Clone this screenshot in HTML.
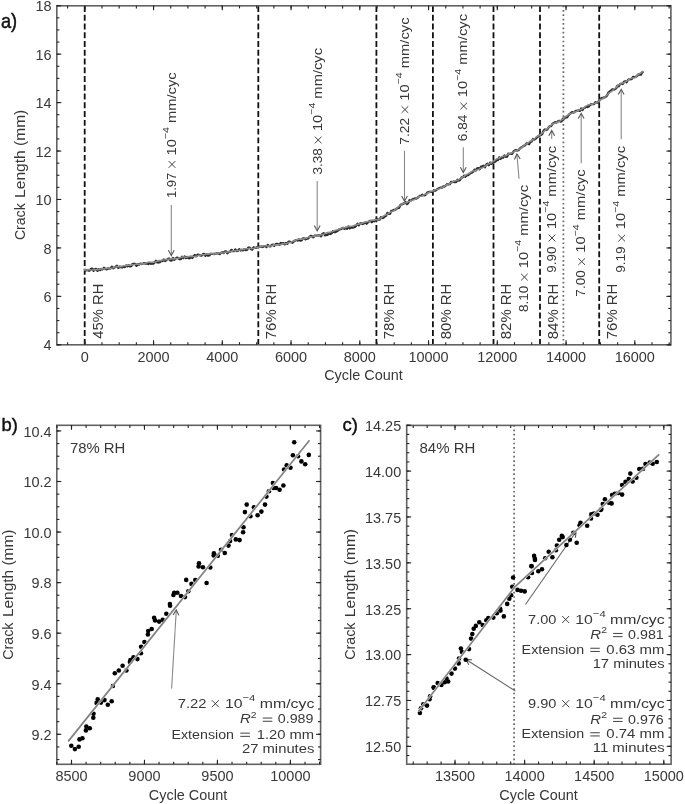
<!DOCTYPE html>
<html><head><meta charset="utf-8"><style>html,body{margin:0;padding:0;background:#fff;}svg{display:block;will-change:transform;}</style></head>
<body>
<svg width="685" height="804" viewBox="0 0 685 804" font-family="Liberation Sans, sans-serif">
<rect width="685" height="804" fill="#fff"/>
<line x1="84.70" y1="6.00" x2="84.70" y2="344.80" stroke="#111" stroke-width="1.8" stroke-dasharray="5.9 2.86"/>
<line x1="258.30" y1="6.00" x2="258.30" y2="344.80" stroke="#111" stroke-width="1.8" stroke-dasharray="5.9 2.86"/>
<line x1="376.40" y1="6.00" x2="376.40" y2="344.80" stroke="#111" stroke-width="1.8" stroke-dasharray="5.9 2.86"/>
<line x1="432.90" y1="6.00" x2="432.90" y2="344.80" stroke="#111" stroke-width="1.8" stroke-dasharray="5.9 2.86"/>
<line x1="493.50" y1="6.00" x2="493.50" y2="344.80" stroke="#111" stroke-width="1.8" stroke-dasharray="5.9 2.86"/>
<line x1="540.00" y1="6.00" x2="540.00" y2="344.80" stroke="#111" stroke-width="1.8" stroke-dasharray="5.9 2.86"/>
<line x1="599.20" y1="6.00" x2="599.20" y2="344.80" stroke="#111" stroke-width="1.8" stroke-dasharray="5.9 2.86"/>
<line x1="563.40" y1="5.55" x2="563.40" y2="344.80" stroke="#666" stroke-width="1.7" stroke-dasharray="1.7 2.686"/>
<polyline fill="none" stroke="#2a2a2a" stroke-width="2.3" stroke-linejoin="round" points="84.5,269.8 85.8,270.5 87.1,270.0 88.4,270.5 89.7,270.5 91.0,268.9 92.3,268.6 93.6,270.8 94.9,269.1 96.2,269.0 97.5,270.9 98.8,269.3 100.1,270.1 101.4,269.0 102.7,269.3 104.0,267.8 105.3,268.9 106.6,269.4 107.9,268.3 109.2,268.7 110.5,268.4 111.8,266.6 113.1,268.3 114.4,267.6 115.7,266.7 117.0,265.8 118.3,267.9 119.6,266.6 120.9,267.1 122.2,267.4 123.5,266.7 124.8,267.1 126.1,265.5 127.4,266.4 128.7,265.2 130.0,266.4 131.3,266.1 132.6,263.8 133.9,263.8 135.2,263.9 136.5,265.8 137.8,264.2 139.1,264.6 140.4,263.6 141.7,264.0 143.0,263.5 144.3,263.2 145.6,263.6 146.9,263.4 148.2,264.1 149.5,263.3 150.8,263.8 152.1,263.4 153.4,263.5 154.7,262.4 156.0,260.8 157.3,262.4 158.6,262.5 159.9,262.1 161.2,260.9 162.5,261.1 163.8,259.5 165.1,261.0 166.4,260.1 167.7,259.2 169.0,258.4 170.3,260.4 171.6,260.6 172.9,258.0 174.2,259.8 175.5,258.6 176.8,257.7 178.1,257.9 179.4,259.1 180.7,259.2 182.0,256.8 183.3,258.1 184.6,256.4 185.9,258.1 187.2,256.9 188.5,258.2 189.8,258.3 191.1,256.8 192.4,258.0 193.7,255.9 195.0,255.1 196.3,256.3 197.6,254.6 198.9,254.9 200.2,255.3 201.5,255.7 202.8,254.3 204.1,253.8 205.4,255.8 206.7,254.1 208.0,255.7 209.3,255.4 210.6,253.8 211.9,253.8 213.2,253.8 214.5,254.0 215.8,253.7 217.1,253.4 218.4,253.4 219.7,254.1 221.0,252.8 222.3,252.4 223.6,253.0 224.9,251.5 226.2,251.5 227.5,253.2 228.8,251.8 230.1,251.7 231.4,250.0 232.7,251.0 234.0,251.2 235.3,249.5 236.6,251.0 237.9,250.8 239.2,249.1 240.5,250.5 241.8,249.9 243.1,250.3 244.4,249.2 245.7,250.0 247.0,249.8 248.3,247.7 249.6,247.6 250.9,249.0 252.2,249.6 253.5,247.4 254.8,247.8 256.1,247.9 257.4,247.0 258.7,246.9 260.0,246.6 261.3,246.6 262.6,247.0 263.9,246.1 265.2,246.1 266.5,247.0 267.8,244.9 269.1,246.1 270.4,246.4 271.7,245.0 273.0,244.6 274.3,245.9 275.6,244.2 276.9,243.9 278.2,244.3 279.5,244.9 280.8,243.0 282.1,243.4 283.4,243.2 284.7,244.4 286.0,243.0 287.3,243.8 288.6,241.6 289.9,241.7 291.2,242.3 292.5,242.8 293.8,241.4 295.1,240.6 296.4,239.9 297.7,240.6 299.0,239.3 300.3,240.6 301.6,240.4 302.9,238.3 304.2,238.3 305.5,239.4 306.8,238.5 308.1,238.5 309.4,236.9 310.7,236.0 312.0,236.2 313.3,237.3 314.6,235.7 315.9,235.6 317.2,235.6 318.5,235.4 319.8,235.2 321.1,236.3 322.4,233.9 323.7,233.2 325.0,235.4 326.3,234.9 327.6,234.8 328.9,232.9 330.2,234.0 331.5,233.5 332.8,231.2 334.1,232.2 335.4,232.1 336.7,231.2 338.0,230.5 339.3,229.4 340.6,229.2 341.9,228.6 343.2,227.8 344.5,228.9 345.8,227.7 347.1,228.8 348.4,226.4 349.7,228.4 351.0,227.5 352.3,227.7 353.6,227.3 354.9,227.0 356.2,225.7 357.5,223.8 358.8,225.3 360.1,223.4 361.4,223.4 362.7,224.0 364.0,223.2 365.3,222.6 366.6,223.7 367.9,222.4 369.2,221.4 370.5,220.8 371.8,222.2 373.1,220.8 374.4,221.3 375.7,219.9 377.0,219.0 378.3,219.5 379.6,219.7 380.9,217.2 382.2,218.1 383.5,217.6 384.8,216.5 386.1,215.8 387.4,212.9 388.7,213.9 390.0,213.9 391.3,210.9 392.6,210.7 393.9,209.9 395.2,209.8 396.5,208.7 397.8,208.0 399.1,207.9 400.4,205.0 401.7,204.4 403.0,203.9 404.3,203.1 405.6,202.2 406.9,204.0 408.2,203.0 409.5,200.2 410.8,200.7 412.1,199.6 413.4,199.0 414.7,198.5 416.0,198.7 417.3,198.0 418.6,196.9 419.9,195.9 421.2,195.7 422.5,194.7 423.8,195.3 425.1,195.2 426.4,193.8 427.7,192.4 429.0,192.0 430.3,191.9 431.6,191.9 432.9,191.7 434.2,190.1 435.5,190.7 436.8,189.7 438.1,188.7 439.4,188.0 440.7,187.7 442.0,187.7 443.3,186.4 444.6,186.5 445.9,185.3 447.2,184.2 448.5,184.4 449.8,184.2 451.1,181.9 452.4,182.2 453.7,181.6 455.0,182.2 456.3,181.8 457.6,179.7 458.9,180.6 460.2,179.7 461.5,177.5 462.8,177.3 464.1,175.7 465.4,176.8 466.7,175.5 468.0,175.2 469.3,174.1 470.6,173.0 471.9,172.6 473.2,171.6 474.5,169.7 475.8,170.5 477.1,168.3 478.4,168.1 479.7,169.3 481.0,166.7 482.3,166.3 483.6,165.7 484.9,167.3 486.2,164.7 487.5,163.7 488.8,165.2 490.1,162.6 491.4,163.9 492.7,162.7 494.0,162.3 495.3,161.6 496.6,160.0 497.9,160.0 499.2,157.4 500.5,158.9 501.8,157.7 503.1,157.7 504.4,155.5 505.7,156.8 507.0,156.7 508.3,153.7 509.6,153.8 510.9,153.7 512.2,153.8 513.5,151.5 514.8,150.6 516.1,150.1 517.4,150.5 518.7,150.1 520.0,148.4 521.3,147.5 522.6,146.7 523.9,145.7 525.2,145.1 526.5,143.3 527.8,143.6 529.1,144.1 530.4,141.7 531.7,141.6 533.0,139.0 534.3,139.5 535.6,138.7 536.9,137.5 538.2,136.3 539.5,135.6 540.8,135.0 542.1,134.3 543.4,130.9 544.7,129.4 546.0,130.1 547.3,129.5 548.6,127.4 549.9,126.1 551.2,126.0 552.5,123.7 553.8,123.1 555.1,122.1 556.4,122.7 557.7,121.5 559.0,120.8 560.3,121.5 561.6,121.3 562.9,118.6 564.2,118.7 565.5,117.0 566.8,117.4 568.1,115.8 569.4,114.1 570.7,113.2 572.0,112.1 573.3,112.7 574.6,111.9 575.9,110.8 577.2,110.8 578.5,110.2 579.8,110.9 581.1,108.5 582.4,110.1 583.7,108.0 585.0,107.7 586.3,106.6 587.6,107.0 588.9,106.2 590.2,104.9 591.5,104.1 592.8,104.2 594.1,104.0 595.4,102.2 596.7,102.5 598.0,102.5 599.3,100.5 600.6,98.9 601.9,97.9 603.2,98.2 604.5,97.1 605.8,96.8 607.1,95.4 608.4,92.7 609.7,91.5 611.0,90.6 612.3,89.4 613.6,89.7 614.9,89.1 616.2,88.2 617.5,85.6 618.8,86.3 620.1,84.0 621.4,83.7 622.7,84.0 624.0,81.8 625.3,81.2 626.6,82.3 627.9,80.0 629.2,79.3 630.5,79.2 631.8,79.0 633.1,76.8 634.4,77.2 635.7,76.8 637.0,76.0 638.3,74.4 639.6,74.5 640.9,74.6 642.2,72.2 643.5,71.8"/>
<polyline fill="none" stroke="#8c8c8c" stroke-width="1.6" stroke-linejoin="round" stroke-linecap="round" points="84.5,269.9 86.0,269.7 87.5,270.0 89.0,269.5 90.5,270.0 92.0,270.3 93.5,269.6 95.0,269.9 96.5,269.5 98.0,269.6 99.5,269.5 101.0,269.0 102.5,268.9 104.0,268.8 105.5,268.8 107.0,268.2 108.5,268.2 110.0,268.4 111.5,268.1 113.0,267.7 114.5,267.0 116.0,266.9 117.5,266.6 119.0,266.7 120.5,266.6 122.0,266.4 123.5,265.8 125.0,265.8 126.5,265.7 128.0,265.1 129.5,265.3 131.0,265.2 132.5,264.5 134.0,264.9 135.5,264.2 137.0,264.0 138.5,264.2 140.0,264.1 141.5,263.9 143.0,263.8 144.5,263.5 146.0,263.0 147.5,262.5 149.0,262.0 150.5,262.3 152.0,262.4 153.5,262.1 155.0,262.0 156.5,261.5 158.0,260.9 159.5,260.6 161.0,260.8 162.5,260.0 164.0,259.8 165.5,259.5 167.0,259.7 168.5,259.3 170.0,259.0 171.5,258.9 173.0,258.8 174.5,259.0 176.0,258.5 177.5,258.7 179.0,258.0 180.5,257.6 182.0,257.2 183.5,256.8 185.0,257.2 186.5,257.3 188.0,256.8 189.5,256.4 191.0,256.2 192.5,256.4 194.0,256.5 195.5,256.4 197.0,256.1 198.5,255.4 200.0,255.2 201.5,254.7 203.0,254.7 204.5,254.7 206.0,254.2 207.5,253.9 209.0,254.1 210.5,253.5 212.0,253.8 213.5,253.9 215.0,254.0 216.5,253.5 218.0,253.2 219.5,253.0 221.0,252.8 222.5,253.0 224.0,252.7 225.5,252.1 227.0,252.2 228.5,251.8 230.0,251.6 231.5,251.5 233.0,250.7 234.5,250.8 236.0,250.8 237.5,250.5 239.0,250.3 240.5,250.0 242.0,249.5 243.5,249.4 245.0,248.8 246.5,248.8 248.0,248.8 249.5,248.5 251.0,248.3 252.5,248.5 254.0,248.5 255.5,247.6 257.0,247.6 258.5,247.4 260.0,246.6 261.5,246.4 263.0,246.1 264.5,245.7 266.0,245.8 267.5,246.2 269.0,245.7 270.5,245.9 272.0,245.7 273.5,244.9 275.0,245.1 276.5,244.9 278.0,244.9 279.5,244.7 281.0,244.4 282.5,243.8 284.0,243.8 285.5,243.8 287.0,243.5 288.5,242.7 290.0,242.4 291.5,242.0 293.0,241.3 294.5,240.7 296.0,240.1 297.5,239.6 299.0,239.1 300.5,239.0 302.0,239.1 303.5,238.8 305.0,238.4 306.5,238.1 308.0,237.4 309.5,236.9 311.0,236.9 312.5,236.5 314.0,235.9 315.5,236.1 317.0,236.0 318.5,235.5 320.0,235.1 321.5,234.8 323.0,234.6 324.5,233.9 326.0,233.1 327.5,232.6 329.0,232.8 330.5,232.0 332.0,231.7 333.5,231.1 335.0,230.5 336.5,230.0 338.0,229.7 339.5,229.1 341.0,228.5 342.5,228.0 344.0,227.7 345.5,227.6 347.0,227.0 348.5,226.5 350.0,226.4 351.5,226.2 353.0,226.1 354.5,225.3 356.0,225.0 357.5,224.6 359.0,223.7 360.5,224.0 362.0,223.3 363.5,222.6 365.0,222.3 366.5,221.8 368.0,221.7 369.5,221.3 371.0,220.6 372.5,220.0 374.0,220.2 375.5,219.7 377.0,219.7 378.5,219.1 380.0,218.9 381.5,217.6 383.0,216.4 384.5,215.3 386.0,214.9 387.5,214.2 389.0,213.2 390.5,212.0 392.0,211.4 393.5,211.0 395.0,210.0 396.5,208.4 398.0,207.1 399.5,205.9 401.0,205.0 402.5,204.0 404.0,203.1 405.5,202.8 407.0,202.6 408.5,201.5 410.0,201.2 411.5,200.4 413.0,199.9 414.5,199.4 416.0,198.9 417.5,197.5 419.0,196.7 420.5,196.3 422.0,196.1 423.5,194.9 425.0,194.2 426.5,194.0 428.0,192.9 429.5,192.2 431.0,191.4 432.5,190.9 434.0,190.7 435.5,189.6 437.0,189.3 438.5,188.9 440.0,188.4 441.5,187.6 443.0,187.2 444.5,186.1 446.0,185.2 447.5,184.3 449.0,184.0 450.5,183.2 452.0,182.2 453.5,181.3 455.0,181.0 456.5,180.4 458.0,179.9 459.5,179.1 461.0,178.3 462.5,177.1 464.0,176.6 465.5,175.2 467.0,174.3 468.5,173.7 470.0,172.8 471.5,171.7 473.0,170.9 474.5,170.7 476.0,170.2 477.5,169.8 479.0,169.3 480.5,168.3 482.0,167.9 483.5,167.3 485.0,166.2 486.5,165.2 488.0,164.1 489.5,163.4 491.0,163.2 492.5,161.9 494.0,161.1 495.5,159.6 497.0,158.7 498.5,158.5 500.0,157.8 501.5,156.9 503.0,156.2 504.5,156.0 506.0,155.7 507.5,154.6 509.0,153.8 510.5,153.7 512.0,152.6 513.5,151.9 515.0,151.1 516.5,150.6 518.0,149.9 519.5,149.2 521.0,148.1 522.5,146.7 524.0,145.5 525.5,144.2 527.0,143.9 528.5,142.5 530.0,141.3 531.5,140.9 533.0,139.5 534.5,138.8 536.0,137.2 537.5,136.2 539.0,135.3 540.5,134.8 542.0,133.3 543.5,131.8 545.0,130.4 546.5,129.4 548.0,127.8 549.5,126.6 551.0,125.4 552.5,124.0 554.0,123.5 555.5,122.7 557.0,122.4 558.5,121.5 560.0,121.0 561.5,119.9 563.0,119.1 564.5,117.5 566.0,116.4 567.5,115.5 569.0,114.2 570.5,113.6 572.0,113.2 573.5,112.5 575.0,111.9 576.5,111.4 578.0,110.5 579.5,109.8 581.0,109.7 582.5,108.6 584.0,107.7 585.5,106.5 587.0,105.6 588.5,104.7 590.0,104.6 591.5,104.2 593.0,103.9 594.5,103.5 596.0,102.6 597.5,102.1 599.0,101.1 600.5,99.7 602.0,98.9 603.5,97.9 605.0,96.9 606.5,95.3 608.0,94.1 609.5,92.6 611.0,91.8 612.5,90.7 614.0,88.9 615.5,88.1 617.0,86.4 618.5,85.0 620.0,84.3 621.5,83.5 623.0,83.0 624.5,82.6 626.0,81.2 627.5,80.6 629.0,79.4 630.5,78.6 632.0,78.0 633.5,77.8 635.0,77.5 636.5,76.1 638.0,74.7 639.5,73.7 641.0,72.8 642.5,71.5"/>
<rect x="56.8" y="5.8" width="614.1" height="339.0" fill="none" stroke="#626262" stroke-width="1.6"/>
<line x1="67.61" y1="344.80" x2="67.61" y2="342.20" stroke="#222" stroke-width="1.1" />
<line x1="67.61" y1="5.80" x2="67.61" y2="8.40" stroke="#222" stroke-width="1.1" />
<line x1="84.80" y1="344.80" x2="84.80" y2="342.20" stroke="#222" stroke-width="1.1" />
<line x1="84.80" y1="5.80" x2="84.80" y2="8.40" stroke="#222" stroke-width="1.1" />
<line x1="101.99" y1="344.80" x2="101.99" y2="342.20" stroke="#222" stroke-width="1.1" />
<line x1="101.99" y1="5.80" x2="101.99" y2="8.40" stroke="#222" stroke-width="1.1" />
<line x1="119.17" y1="344.80" x2="119.17" y2="342.20" stroke="#222" stroke-width="1.1" />
<line x1="119.17" y1="5.80" x2="119.17" y2="8.40" stroke="#222" stroke-width="1.1" />
<line x1="136.36" y1="344.80" x2="136.36" y2="342.20" stroke="#222" stroke-width="1.1" />
<line x1="136.36" y1="5.80" x2="136.36" y2="8.40" stroke="#222" stroke-width="1.1" />
<line x1="153.55" y1="344.80" x2="153.55" y2="342.20" stroke="#222" stroke-width="1.1" />
<line x1="153.55" y1="5.80" x2="153.55" y2="8.40" stroke="#222" stroke-width="1.1" />
<line x1="170.74" y1="344.80" x2="170.74" y2="342.20" stroke="#222" stroke-width="1.1" />
<line x1="170.74" y1="5.80" x2="170.74" y2="8.40" stroke="#222" stroke-width="1.1" />
<line x1="187.93" y1="344.80" x2="187.93" y2="342.20" stroke="#222" stroke-width="1.1" />
<line x1="187.93" y1="5.80" x2="187.93" y2="8.40" stroke="#222" stroke-width="1.1" />
<line x1="205.11" y1="344.80" x2="205.11" y2="342.20" stroke="#222" stroke-width="1.1" />
<line x1="205.11" y1="5.80" x2="205.11" y2="8.40" stroke="#222" stroke-width="1.1" />
<line x1="222.30" y1="344.80" x2="222.30" y2="342.20" stroke="#222" stroke-width="1.1" />
<line x1="222.30" y1="5.80" x2="222.30" y2="8.40" stroke="#222" stroke-width="1.1" />
<line x1="239.49" y1="344.80" x2="239.49" y2="342.20" stroke="#222" stroke-width="1.1" />
<line x1="239.49" y1="5.80" x2="239.49" y2="8.40" stroke="#222" stroke-width="1.1" />
<line x1="256.68" y1="344.80" x2="256.68" y2="342.20" stroke="#222" stroke-width="1.1" />
<line x1="256.68" y1="5.80" x2="256.68" y2="8.40" stroke="#222" stroke-width="1.1" />
<line x1="273.86" y1="344.80" x2="273.86" y2="342.20" stroke="#222" stroke-width="1.1" />
<line x1="273.86" y1="5.80" x2="273.86" y2="8.40" stroke="#222" stroke-width="1.1" />
<line x1="291.05" y1="344.80" x2="291.05" y2="342.20" stroke="#222" stroke-width="1.1" />
<line x1="291.05" y1="5.80" x2="291.05" y2="8.40" stroke="#222" stroke-width="1.1" />
<line x1="308.24" y1="344.80" x2="308.24" y2="342.20" stroke="#222" stroke-width="1.1" />
<line x1="308.24" y1="5.80" x2="308.24" y2="8.40" stroke="#222" stroke-width="1.1" />
<line x1="325.43" y1="344.80" x2="325.43" y2="342.20" stroke="#222" stroke-width="1.1" />
<line x1="325.43" y1="5.80" x2="325.43" y2="8.40" stroke="#222" stroke-width="1.1" />
<line x1="342.61" y1="344.80" x2="342.61" y2="342.20" stroke="#222" stroke-width="1.1" />
<line x1="342.61" y1="5.80" x2="342.61" y2="8.40" stroke="#222" stroke-width="1.1" />
<line x1="359.80" y1="344.80" x2="359.80" y2="342.20" stroke="#222" stroke-width="1.1" />
<line x1="359.80" y1="5.80" x2="359.80" y2="8.40" stroke="#222" stroke-width="1.1" />
<line x1="376.99" y1="344.80" x2="376.99" y2="342.20" stroke="#222" stroke-width="1.1" />
<line x1="376.99" y1="5.80" x2="376.99" y2="8.40" stroke="#222" stroke-width="1.1" />
<line x1="394.18" y1="344.80" x2="394.18" y2="342.20" stroke="#222" stroke-width="1.1" />
<line x1="394.18" y1="5.80" x2="394.18" y2="8.40" stroke="#222" stroke-width="1.1" />
<line x1="411.36" y1="344.80" x2="411.36" y2="342.20" stroke="#222" stroke-width="1.1" />
<line x1="411.36" y1="5.80" x2="411.36" y2="8.40" stroke="#222" stroke-width="1.1" />
<line x1="428.55" y1="344.80" x2="428.55" y2="342.20" stroke="#222" stroke-width="1.1" />
<line x1="428.55" y1="5.80" x2="428.55" y2="8.40" stroke="#222" stroke-width="1.1" />
<line x1="445.74" y1="344.80" x2="445.74" y2="342.20" stroke="#222" stroke-width="1.1" />
<line x1="445.74" y1="5.80" x2="445.74" y2="8.40" stroke="#222" stroke-width="1.1" />
<line x1="462.93" y1="344.80" x2="462.93" y2="342.20" stroke="#222" stroke-width="1.1" />
<line x1="462.93" y1="5.80" x2="462.93" y2="8.40" stroke="#222" stroke-width="1.1" />
<line x1="480.11" y1="344.80" x2="480.11" y2="342.20" stroke="#222" stroke-width="1.1" />
<line x1="480.11" y1="5.80" x2="480.11" y2="8.40" stroke="#222" stroke-width="1.1" />
<line x1="497.30" y1="344.80" x2="497.30" y2="342.20" stroke="#222" stroke-width="1.1" />
<line x1="497.30" y1="5.80" x2="497.30" y2="8.40" stroke="#222" stroke-width="1.1" />
<line x1="514.49" y1="344.80" x2="514.49" y2="342.20" stroke="#222" stroke-width="1.1" />
<line x1="514.49" y1="5.80" x2="514.49" y2="8.40" stroke="#222" stroke-width="1.1" />
<line x1="531.68" y1="344.80" x2="531.68" y2="342.20" stroke="#222" stroke-width="1.1" />
<line x1="531.68" y1="5.80" x2="531.68" y2="8.40" stroke="#222" stroke-width="1.1" />
<line x1="548.86" y1="344.80" x2="548.86" y2="342.20" stroke="#222" stroke-width="1.1" />
<line x1="548.86" y1="5.80" x2="548.86" y2="8.40" stroke="#222" stroke-width="1.1" />
<line x1="566.05" y1="344.80" x2="566.05" y2="342.20" stroke="#222" stroke-width="1.1" />
<line x1="566.05" y1="5.80" x2="566.05" y2="8.40" stroke="#222" stroke-width="1.1" />
<line x1="583.24" y1="344.80" x2="583.24" y2="342.20" stroke="#222" stroke-width="1.1" />
<line x1="583.24" y1="5.80" x2="583.24" y2="8.40" stroke="#222" stroke-width="1.1" />
<line x1="600.42" y1="344.80" x2="600.42" y2="342.20" stroke="#222" stroke-width="1.1" />
<line x1="600.42" y1="5.80" x2="600.42" y2="8.40" stroke="#222" stroke-width="1.1" />
<line x1="617.61" y1="344.80" x2="617.61" y2="342.20" stroke="#222" stroke-width="1.1" />
<line x1="617.61" y1="5.80" x2="617.61" y2="8.40" stroke="#222" stroke-width="1.1" />
<line x1="634.80" y1="344.80" x2="634.80" y2="342.20" stroke="#222" stroke-width="1.1" />
<line x1="634.80" y1="5.80" x2="634.80" y2="8.40" stroke="#222" stroke-width="1.1" />
<line x1="651.99" y1="344.80" x2="651.99" y2="342.20" stroke="#222" stroke-width="1.1" />
<line x1="651.99" y1="5.80" x2="651.99" y2="8.40" stroke="#222" stroke-width="1.1" />
<line x1="669.17" y1="344.80" x2="669.17" y2="342.20" stroke="#222" stroke-width="1.1" />
<line x1="669.17" y1="5.80" x2="669.17" y2="8.40" stroke="#222" stroke-width="1.1" />
<line x1="84.80" y1="344.80" x2="84.80" y2="340.30" stroke="#222" stroke-width="1.1" />
<line x1="84.80" y1="5.80" x2="84.80" y2="10.30" stroke="#222" stroke-width="1.1" />
<line x1="153.55" y1="344.80" x2="153.55" y2="340.30" stroke="#222" stroke-width="1.1" />
<line x1="153.55" y1="5.80" x2="153.55" y2="10.30" stroke="#222" stroke-width="1.1" />
<line x1="222.30" y1="344.80" x2="222.30" y2="340.30" stroke="#222" stroke-width="1.1" />
<line x1="222.30" y1="5.80" x2="222.30" y2="10.30" stroke="#222" stroke-width="1.1" />
<line x1="291.05" y1="344.80" x2="291.05" y2="340.30" stroke="#222" stroke-width="1.1" />
<line x1="291.05" y1="5.80" x2="291.05" y2="10.30" stroke="#222" stroke-width="1.1" />
<line x1="359.80" y1="344.80" x2="359.80" y2="340.30" stroke="#222" stroke-width="1.1" />
<line x1="359.80" y1="5.80" x2="359.80" y2="10.30" stroke="#222" stroke-width="1.1" />
<line x1="428.55" y1="344.80" x2="428.55" y2="340.30" stroke="#222" stroke-width="1.1" />
<line x1="428.55" y1="5.80" x2="428.55" y2="10.30" stroke="#222" stroke-width="1.1" />
<line x1="497.30" y1="344.80" x2="497.30" y2="340.30" stroke="#222" stroke-width="1.1" />
<line x1="497.30" y1="5.80" x2="497.30" y2="10.30" stroke="#222" stroke-width="1.1" />
<line x1="566.05" y1="344.80" x2="566.05" y2="340.30" stroke="#222" stroke-width="1.1" />
<line x1="566.05" y1="5.80" x2="566.05" y2="10.30" stroke="#222" stroke-width="1.1" />
<line x1="634.80" y1="344.80" x2="634.80" y2="340.30" stroke="#222" stroke-width="1.1" />
<line x1="634.80" y1="5.80" x2="634.80" y2="10.30" stroke="#222" stroke-width="1.1" />
<line x1="56.80" y1="344.80" x2="59.40" y2="344.80" stroke="#222" stroke-width="1.1" />
<line x1="670.90" y1="344.80" x2="668.30" y2="344.80" stroke="#222" stroke-width="1.1" />
<line x1="56.80" y1="332.69" x2="59.40" y2="332.69" stroke="#222" stroke-width="1.1" />
<line x1="670.90" y1="332.69" x2="668.30" y2="332.69" stroke="#222" stroke-width="1.1" />
<line x1="56.80" y1="320.58" x2="59.40" y2="320.58" stroke="#222" stroke-width="1.1" />
<line x1="670.90" y1="320.58" x2="668.30" y2="320.58" stroke="#222" stroke-width="1.1" />
<line x1="56.80" y1="308.47" x2="59.40" y2="308.47" stroke="#222" stroke-width="1.1" />
<line x1="670.90" y1="308.47" x2="668.30" y2="308.47" stroke="#222" stroke-width="1.1" />
<line x1="56.80" y1="296.36" x2="59.40" y2="296.36" stroke="#222" stroke-width="1.1" />
<line x1="670.90" y1="296.36" x2="668.30" y2="296.36" stroke="#222" stroke-width="1.1" />
<line x1="56.80" y1="284.25" x2="59.40" y2="284.25" stroke="#222" stroke-width="1.1" />
<line x1="670.90" y1="284.25" x2="668.30" y2="284.25" stroke="#222" stroke-width="1.1" />
<line x1="56.80" y1="272.14" x2="59.40" y2="272.14" stroke="#222" stroke-width="1.1" />
<line x1="670.90" y1="272.14" x2="668.30" y2="272.14" stroke="#222" stroke-width="1.1" />
<line x1="56.80" y1="260.03" x2="59.40" y2="260.03" stroke="#222" stroke-width="1.1" />
<line x1="670.90" y1="260.03" x2="668.30" y2="260.03" stroke="#222" stroke-width="1.1" />
<line x1="56.80" y1="247.92" x2="59.40" y2="247.92" stroke="#222" stroke-width="1.1" />
<line x1="670.90" y1="247.92" x2="668.30" y2="247.92" stroke="#222" stroke-width="1.1" />
<line x1="56.80" y1="235.81" x2="59.40" y2="235.81" stroke="#222" stroke-width="1.1" />
<line x1="670.90" y1="235.81" x2="668.30" y2="235.81" stroke="#222" stroke-width="1.1" />
<line x1="56.80" y1="223.70" x2="59.40" y2="223.70" stroke="#222" stroke-width="1.1" />
<line x1="670.90" y1="223.70" x2="668.30" y2="223.70" stroke="#222" stroke-width="1.1" />
<line x1="56.80" y1="211.59" x2="59.40" y2="211.59" stroke="#222" stroke-width="1.1" />
<line x1="670.90" y1="211.59" x2="668.30" y2="211.59" stroke="#222" stroke-width="1.1" />
<line x1="56.80" y1="199.48" x2="59.40" y2="199.48" stroke="#222" stroke-width="1.1" />
<line x1="670.90" y1="199.48" x2="668.30" y2="199.48" stroke="#222" stroke-width="1.1" />
<line x1="56.80" y1="187.37" x2="59.40" y2="187.37" stroke="#222" stroke-width="1.1" />
<line x1="670.90" y1="187.37" x2="668.30" y2="187.37" stroke="#222" stroke-width="1.1" />
<line x1="56.80" y1="175.26" x2="59.40" y2="175.26" stroke="#222" stroke-width="1.1" />
<line x1="670.90" y1="175.26" x2="668.30" y2="175.26" stroke="#222" stroke-width="1.1" />
<line x1="56.80" y1="163.15" x2="59.40" y2="163.15" stroke="#222" stroke-width="1.1" />
<line x1="670.90" y1="163.15" x2="668.30" y2="163.15" stroke="#222" stroke-width="1.1" />
<line x1="56.80" y1="151.04" x2="59.40" y2="151.04" stroke="#222" stroke-width="1.1" />
<line x1="670.90" y1="151.04" x2="668.30" y2="151.04" stroke="#222" stroke-width="1.1" />
<line x1="56.80" y1="138.93" x2="59.40" y2="138.93" stroke="#222" stroke-width="1.1" />
<line x1="670.90" y1="138.93" x2="668.30" y2="138.93" stroke="#222" stroke-width="1.1" />
<line x1="56.80" y1="126.82" x2="59.40" y2="126.82" stroke="#222" stroke-width="1.1" />
<line x1="670.90" y1="126.82" x2="668.30" y2="126.82" stroke="#222" stroke-width="1.1" />
<line x1="56.80" y1="114.71" x2="59.40" y2="114.71" stroke="#222" stroke-width="1.1" />
<line x1="670.90" y1="114.71" x2="668.30" y2="114.71" stroke="#222" stroke-width="1.1" />
<line x1="56.80" y1="102.60" x2="59.40" y2="102.60" stroke="#222" stroke-width="1.1" />
<line x1="670.90" y1="102.60" x2="668.30" y2="102.60" stroke="#222" stroke-width="1.1" />
<line x1="56.80" y1="90.49" x2="59.40" y2="90.49" stroke="#222" stroke-width="1.1" />
<line x1="670.90" y1="90.49" x2="668.30" y2="90.49" stroke="#222" stroke-width="1.1" />
<line x1="56.80" y1="78.38" x2="59.40" y2="78.38" stroke="#222" stroke-width="1.1" />
<line x1="670.90" y1="78.38" x2="668.30" y2="78.38" stroke="#222" stroke-width="1.1" />
<line x1="56.80" y1="66.27" x2="59.40" y2="66.27" stroke="#222" stroke-width="1.1" />
<line x1="670.90" y1="66.27" x2="668.30" y2="66.27" stroke="#222" stroke-width="1.1" />
<line x1="56.80" y1="54.16" x2="59.40" y2="54.16" stroke="#222" stroke-width="1.1" />
<line x1="670.90" y1="54.16" x2="668.30" y2="54.16" stroke="#222" stroke-width="1.1" />
<line x1="56.80" y1="42.05" x2="59.40" y2="42.05" stroke="#222" stroke-width="1.1" />
<line x1="670.90" y1="42.05" x2="668.30" y2="42.05" stroke="#222" stroke-width="1.1" />
<line x1="56.80" y1="29.94" x2="59.40" y2="29.94" stroke="#222" stroke-width="1.1" />
<line x1="670.90" y1="29.94" x2="668.30" y2="29.94" stroke="#222" stroke-width="1.1" />
<line x1="56.80" y1="17.83" x2="59.40" y2="17.83" stroke="#222" stroke-width="1.1" />
<line x1="670.90" y1="17.83" x2="668.30" y2="17.83" stroke="#222" stroke-width="1.1" />
<line x1="56.80" y1="5.72" x2="59.40" y2="5.72" stroke="#222" stroke-width="1.1" />
<line x1="670.90" y1="5.72" x2="668.30" y2="5.72" stroke="#222" stroke-width="1.1" />
<line x1="56.80" y1="344.80" x2="61.30" y2="344.80" stroke="#222" stroke-width="1.1" />
<line x1="670.90" y1="344.80" x2="666.40" y2="344.80" stroke="#222" stroke-width="1.1" />
<line x1="56.80" y1="296.36" x2="61.30" y2="296.36" stroke="#222" stroke-width="1.1" />
<line x1="670.90" y1="296.36" x2="666.40" y2="296.36" stroke="#222" stroke-width="1.1" />
<line x1="56.80" y1="247.92" x2="61.30" y2="247.92" stroke="#222" stroke-width="1.1" />
<line x1="670.90" y1="247.92" x2="666.40" y2="247.92" stroke="#222" stroke-width="1.1" />
<line x1="56.80" y1="199.48" x2="61.30" y2="199.48" stroke="#222" stroke-width="1.1" />
<line x1="670.90" y1="199.48" x2="666.40" y2="199.48" stroke="#222" stroke-width="1.1" />
<line x1="56.80" y1="151.04" x2="61.30" y2="151.04" stroke="#222" stroke-width="1.1" />
<line x1="670.90" y1="151.04" x2="666.40" y2="151.04" stroke="#222" stroke-width="1.1" />
<line x1="56.80" y1="102.60" x2="61.30" y2="102.60" stroke="#222" stroke-width="1.1" />
<line x1="670.90" y1="102.60" x2="666.40" y2="102.60" stroke="#222" stroke-width="1.1" />
<line x1="56.80" y1="54.16" x2="61.30" y2="54.16" stroke="#222" stroke-width="1.1" />
<line x1="670.90" y1="54.16" x2="666.40" y2="54.16" stroke="#222" stroke-width="1.1" />
<line x1="56.80" y1="5.72" x2="61.30" y2="5.72" stroke="#222" stroke-width="1.1" />
<line x1="670.90" y1="5.72" x2="666.40" y2="5.72" stroke="#222" stroke-width="1.1" />
<text transform="translate(84.80,362.00) scale(1.05,1)" font-size="13.8" text-anchor="middle" fill="#383838">0</text>
<text transform="translate(153.55,362.00) scale(1.05,1)" font-size="13.8" text-anchor="middle" fill="#383838">2000</text>
<text transform="translate(222.30,362.00) scale(1.05,1)" font-size="13.8" text-anchor="middle" fill="#383838">4000</text>
<text transform="translate(291.05,362.00) scale(1.05,1)" font-size="13.8" text-anchor="middle" fill="#383838">6000</text>
<text transform="translate(359.80,362.00) scale(1.05,1)" font-size="13.8" text-anchor="middle" fill="#383838">8000</text>
<text transform="translate(428.55,362.00) scale(1.05,1)" font-size="13.8" text-anchor="middle" fill="#383838">10000</text>
<text transform="translate(497.30,362.00) scale(1.05,1)" font-size="13.8" text-anchor="middle" fill="#383838">12000</text>
<text transform="translate(566.05,362.00) scale(1.05,1)" font-size="13.8" text-anchor="middle" fill="#383838">14000</text>
<text transform="translate(634.80,362.00) scale(1.05,1)" font-size="13.8" text-anchor="middle" fill="#383838">16000</text>
<text transform="translate(51.60,350.40) scale(1.05,1)" font-size="13.8" text-anchor="end" fill="#383838">4</text>
<text transform="translate(51.60,301.96) scale(1.05,1)" font-size="13.8" text-anchor="end" fill="#383838">6</text>
<text transform="translate(51.60,253.52) scale(1.05,1)" font-size="13.8" text-anchor="end" fill="#383838">8</text>
<text transform="translate(51.60,205.08) scale(1.05,1)" font-size="13.8" text-anchor="end" fill="#383838">10</text>
<text transform="translate(51.60,156.64) scale(1.05,1)" font-size="13.8" text-anchor="end" fill="#383838">12</text>
<text transform="translate(51.60,108.20) scale(1.05,1)" font-size="13.8" text-anchor="end" fill="#383838">14</text>
<text transform="translate(51.60,59.76) scale(1.05,1)" font-size="13.8" text-anchor="end" fill="#383838">16</text>
<text transform="translate(51.60,11.32) scale(1.05,1)" font-size="13.8" text-anchor="end" fill="#383838">18</text>
<text transform="translate(324.15,380.20) scale(1.0039,1)" font-size="14.4" fill="#383838" >Cycle Count</text>
<text transform="translate(25.20,240.12) rotate(-90) scale(0.9664,1)" font-size="14.6" fill="#383838" >Crack</text>
<text transform="translate(25.20,197.93) rotate(-90) scale(1.0671,1)" font-size="14.6" fill="#383838" >Length (mm)</text>
<text transform="translate(0.92,28.40) scale(0.9125,1)" font-size="20" fill="#111" stroke="#111" stroke-width="0.45">a)</text>
<text transform="translate(102.60,338.65) rotate(-90) scale(1.0113,1)" font-size="14.6" fill="#383838" >45% RH</text>
<text transform="translate(276.20,339.17) rotate(-90) scale(1.0210,1)" font-size="14.6" fill="#383838" >76% RH</text>
<text transform="translate(394.30,339.17) rotate(-90) scale(1.0210,1)" font-size="14.6" fill="#383838" >78% RH</text>
<text transform="translate(450.80,339.17) rotate(-90) scale(1.0210,1)" font-size="14.6" fill="#383838" >80% RH</text>
<text transform="translate(511.40,339.17) rotate(-90) scale(1.0210,1)" font-size="14.6" fill="#383838" >82% RH</text>
<text transform="translate(557.90,339.17) rotate(-90) scale(1.0210,1)" font-size="14.6" fill="#383838" >84% RH</text>
<text transform="translate(617.10,339.17) rotate(-90) scale(1.0210,1)" font-size="14.6" fill="#383838" >76% RH</text>
<text transform="translate(175.60,198.09) rotate(-90) scale(0.9875,1)" font-size="13.2" fill="#383838" >1.97</text>
<text transform="translate(175.60,155.52) rotate(-90) scale(1.1178,1)" font-size="13.2" fill="#383838" >10<tspan font-size="9.4" dy="-6.6">−4</tspan><tspan dy="6.6"> mm/cyc</tspan></text>
<line x1="171.30" y1="205.10" x2="171.30" y2="255.00" stroke="#8a8a8a" stroke-width="1.1" />
<polyline fill="none" stroke="#555" stroke-width="1.1" stroke-linejoin="miter" points="168.40,250.30 171.30,255.60 174.20,250.30"/>
<text transform="translate(321.80,174.61) rotate(-90) scale(1.0245,1)" font-size="13.2" fill="#383838" >3.38</text>
<text transform="translate(321.80,131.12) rotate(-90) scale(1.1178,1)" font-size="13.2" fill="#383838" >10<tspan font-size="9.4" dy="-6.6">−4</tspan><tspan dy="6.6"> mm/cyc</tspan></text>
<line x1="317.20" y1="181.10" x2="317.20" y2="230.30" stroke="#8a8a8a" stroke-width="1.1" />
<polyline fill="none" stroke="#555" stroke-width="1.1" stroke-linejoin="miter" points="314.30,225.60 317.20,230.90 320.10,225.60"/>
<text transform="translate(408.50,144.68) rotate(-90) scale(1.0433,1)" font-size="13.2" fill="#383838" >7.22</text>
<text transform="translate(408.50,100.72) rotate(-90) scale(1.1178,1)" font-size="13.2" fill="#383838" >10<tspan font-size="9.4" dy="-6.6">−4</tspan><tspan dy="6.6"> mm/cyc</tspan></text>
<line x1="404.50" y1="150.80" x2="404.50" y2="200.60" stroke="#8a8a8a" stroke-width="1.1" />
<polyline fill="none" stroke="#555" stroke-width="1.1" stroke-linejoin="miter" points="401.60,195.90 404.50,201.20 407.40,195.90"/>
<text transform="translate(467.30,141.17) rotate(-90) scale(1.0327,1)" font-size="13.2" fill="#383838" >6.84</text>
<text transform="translate(467.30,97.22) rotate(-90) scale(1.1178,1)" font-size="13.2" fill="#383838" >10<tspan font-size="9.4" dy="-6.6">−4</tspan><tspan dy="6.6"> mm/cyc</tspan></text>
<line x1="463.30" y1="147.30" x2="463.30" y2="172.00" stroke="#8a8a8a" stroke-width="1.1" />
<polyline fill="none" stroke="#555" stroke-width="1.1" stroke-linejoin="miter" points="460.40,167.30 463.30,172.60 466.20,167.30"/>
<text transform="translate(528.00,312.12) rotate(-90) scale(1.0303,1)" font-size="13.2" fill="#383838" >8.10</text>
<text transform="translate(528.00,268.22) rotate(-90) scale(1.1178,1)" font-size="13.2" fill="#383838" >10<tspan font-size="9.4" dy="-6.6">−4</tspan><tspan dy="6.6"> mm/cyc</tspan></text>
<line x1="519.00" y1="178.80" x2="516.95" y2="154.60" stroke="#8a8a8a" stroke-width="1.1" />
<polyline fill="none" stroke="#555" stroke-width="1.1" stroke-linejoin="miter" points="520.24,159.04 516.90,154.00 514.46,159.53"/>
<text transform="translate(555.60,272.66) rotate(-90) scale(1.0163,1)" font-size="13.2" fill="#383838" >9.90</text>
<text transform="translate(555.60,229.12) rotate(-90) scale(1.1178,1)" font-size="13.2" fill="#383838" >10<tspan font-size="9.4" dy="-6.6">−4</tspan><tspan dy="6.6"> mm/cyc</tspan></text>
<line x1="551.70" y1="139.10" x2="551.70" y2="131.00" stroke="#8a8a8a" stroke-width="1.1" />
<polyline fill="none" stroke="#555" stroke-width="1.1" stroke-linejoin="miter" points="554.60,135.70 551.70,130.40 548.80,135.70"/>
<text transform="translate(585.30,296.67) rotate(-90) scale(1.0327,1)" font-size="13.2" fill="#383838" >7.00</text>
<text transform="translate(585.30,252.72) rotate(-90) scale(1.1178,1)" font-size="13.2" fill="#383838" >10<tspan font-size="9.4" dy="-6.6">−4</tspan><tspan dy="6.6"> mm/cyc</tspan></text>
<line x1="581.20" y1="163.30" x2="581.20" y2="113.90" stroke="#8a8a8a" stroke-width="1.1" />
<polyline fill="none" stroke="#555" stroke-width="1.1" stroke-linejoin="miter" points="584.10,118.60 581.20,113.30 578.30,118.60"/>
<text transform="translate(625.30,272.87) rotate(-90) scale(1.0309,1)" font-size="13.2" fill="#383838" >9.19</text>
<text transform="translate(625.30,229.22) rotate(-90) scale(1.1178,1)" font-size="13.2" fill="#383838" >10<tspan font-size="9.4" dy="-6.6">−4</tspan><tspan dy="6.6"> mm/cyc</tspan></text>
<line x1="621.20" y1="139.20" x2="621.20" y2="89.90" stroke="#8a8a8a" stroke-width="1.1" />
<polyline fill="none" stroke="#555" stroke-width="1.1" stroke-linejoin="miter" points="624.10,94.60 621.20,89.30 618.30,94.60"/>
<line x1="171.60" y1="688.60" x2="176.26" y2="610.50" stroke="#8a8a8a" stroke-width="1.1" />
<polyline fill="none" stroke="#555" stroke-width="1.1" stroke-linejoin="miter" points="178.88,615.36 176.30,609.90 173.09,615.02"/>
<circle cx="71.3" cy="745.8" r="2.3" fill="#000"/>
<circle cx="74.9" cy="749.1" r="2.3" fill="#000"/>
<circle cx="78.7" cy="746.7" r="2.3" fill="#000"/>
<circle cx="79.5" cy="739.4" r="2.3" fill="#000"/>
<circle cx="82.4" cy="738.2" r="2.3" fill="#000"/>
<circle cx="86.3" cy="726.6" r="2.3" fill="#000"/>
<circle cx="85.9" cy="730.4" r="2.3" fill="#000"/>
<circle cx="89.8" cy="728.3" r="2.3" fill="#000"/>
<circle cx="93.5" cy="713.7" r="2.3" fill="#000"/>
<circle cx="93.3" cy="717.8" r="2.3" fill="#000"/>
<circle cx="97.7" cy="699.4" r="2.3" fill="#000"/>
<circle cx="96.6" cy="702.9" r="2.3" fill="#000"/>
<circle cx="100.9" cy="702.6" r="2.3" fill="#000"/>
<circle cx="104.5" cy="700.1" r="2.3" fill="#000"/>
<circle cx="107.8" cy="704.8" r="2.3" fill="#000"/>
<circle cx="111.7" cy="701.2" r="2.3" fill="#000"/>
<circle cx="112.9" cy="686" r="2.3" fill="#000"/>
<circle cx="114.8" cy="673.3" r="2.3" fill="#000"/>
<circle cx="118.8" cy="670.5" r="2.3" fill="#000"/>
<circle cx="122.6" cy="665.7" r="2.3" fill="#000"/>
<circle cx="126.4" cy="670.4" r="2.3" fill="#000"/>
<circle cx="129.9" cy="662" r="2.3" fill="#000"/>
<circle cx="130.4" cy="660" r="2.3" fill="#000"/>
<circle cx="133.5" cy="657.3" r="2.3" fill="#000"/>
<circle cx="137.4" cy="659.1" r="2.3" fill="#000"/>
<circle cx="140.9" cy="653.2" r="2.3" fill="#000"/>
<circle cx="141.1" cy="646.8" r="2.3" fill="#000"/>
<circle cx="144.4" cy="642.1" r="2.3" fill="#000"/>
<circle cx="147.9" cy="634.5" r="2.3" fill="#000"/>
<circle cx="148.2" cy="631" r="2.3" fill="#000"/>
<circle cx="151.7" cy="629" r="2.3" fill="#000"/>
<circle cx="154.1" cy="617.8" r="2.3" fill="#000"/>
<circle cx="155.1" cy="620.4" r="2.3" fill="#000"/>
<circle cx="159.1" cy="621.6" r="2.3" fill="#000"/>
<circle cx="162.7" cy="619.9" r="2.3" fill="#000"/>
<circle cx="166.3" cy="613.8" r="2.3" fill="#000"/>
<circle cx="169.9" cy="604.1" r="2.3" fill="#000"/>
<circle cx="170.1" cy="605.8" r="2.3" fill="#000"/>
<circle cx="173.4" cy="595" r="2.3" fill="#000"/>
<circle cx="174.2" cy="592.7" r="2.3" fill="#000"/>
<circle cx="177.4" cy="592.7" r="2.3" fill="#000"/>
<circle cx="181" cy="596" r="2.3" fill="#000"/>
<circle cx="185" cy="597.1" r="2.3" fill="#000"/>
<circle cx="186.2" cy="579.9" r="2.3" fill="#000"/>
<circle cx="188.3" cy="591.3" r="2.3" fill="#000"/>
<circle cx="191.5" cy="583.9" r="2.3" fill="#000"/>
<circle cx="195.3" cy="580" r="2.3" fill="#000"/>
<circle cx="199" cy="563.2" r="2.3" fill="#000"/>
<circle cx="198.6" cy="566.4" r="2.3" fill="#000"/>
<circle cx="202.9" cy="567.2" r="2.3" fill="#000"/>
<circle cx="206.6" cy="583" r="2.3" fill="#000"/>
<circle cx="210.3" cy="567.5" r="2.3" fill="#000"/>
<circle cx="213.9" cy="553.4" r="2.3" fill="#000"/>
<circle cx="213.7" cy="555.5" r="2.3" fill="#000"/>
<circle cx="217.8" cy="555.8" r="2.3" fill="#000"/>
<circle cx="221" cy="549.7" r="2.3" fill="#000"/>
<circle cx="224.8" cy="553" r="2.3" fill="#000"/>
<circle cx="228.5" cy="545.6" r="2.3" fill="#000"/>
<circle cx="230.1" cy="541" r="2.3" fill="#000"/>
<circle cx="232" cy="535.1" r="2.3" fill="#000"/>
<circle cx="235.8" cy="539.4" r="2.3" fill="#000"/>
<circle cx="239.6" cy="540.1" r="2.3" fill="#000"/>
<circle cx="243.5" cy="527.2" r="2.3" fill="#000"/>
<circle cx="243.1" cy="532.2" r="2.3" fill="#000"/>
<circle cx="244.9" cy="512.1" r="2.3" fill="#000"/>
<circle cx="246.7" cy="504.6" r="2.3" fill="#000"/>
<circle cx="250.4" cy="516.2" r="2.3" fill="#000"/>
<circle cx="253.9" cy="507.3" r="2.3" fill="#000"/>
<circle cx="257.6" cy="515.2" r="2.3" fill="#000"/>
<circle cx="261.4" cy="511.6" r="2.3" fill="#000"/>
<circle cx="265" cy="504.6" r="2.3" fill="#000"/>
<circle cx="266.4" cy="496.6" r="2.3" fill="#000"/>
<circle cx="268.9" cy="491.3" r="2.3" fill="#000"/>
<circle cx="272.9" cy="483" r="2.3" fill="#000"/>
<circle cx="273.4" cy="488" r="2.3" fill="#000"/>
<circle cx="276.1" cy="488" r="2.3" fill="#000"/>
<circle cx="279.6" cy="489.8" r="2.3" fill="#000"/>
<circle cx="283.4" cy="485.5" r="2.3" fill="#000"/>
<circle cx="284.1" cy="469.6" r="2.3" fill="#000"/>
<circle cx="286.7" cy="465.3" r="2.3" fill="#000"/>
<circle cx="290.5" cy="467.8" r="2.3" fill="#000"/>
<circle cx="292.9" cy="455.3" r="2.3" fill="#000"/>
<circle cx="294.2" cy="442.3" r="2.3" fill="#000"/>
<circle cx="298" cy="456.3" r="2.3" fill="#000"/>
<circle cx="301.4" cy="461.4" r="2.3" fill="#000"/>
<circle cx="305.2" cy="464.2" r="2.3" fill="#000"/>
<circle cx="308.8" cy="454.9" r="2.3" fill="#000"/>
<line x1="68.20" y1="741.40" x2="309.50" y2="440.30" stroke="#fff" stroke-width="2.2" />
<line x1="68.20" y1="741.40" x2="309.50" y2="440.30" stroke="#828282" stroke-width="1.7" />
<rect x="56.8" y="425.3" width="263.8" height="338.99999999999994" fill="none" stroke="#626262" stroke-width="1.6"/>
<line x1="56.91" y1="764.30" x2="56.91" y2="761.70" stroke="#222" stroke-width="1.1" />
<line x1="56.91" y1="425.30" x2="56.91" y2="427.90" stroke="#222" stroke-width="1.1" />
<line x1="71.50" y1="764.30" x2="71.50" y2="761.70" stroke="#222" stroke-width="1.1" />
<line x1="71.50" y1="425.30" x2="71.50" y2="427.90" stroke="#222" stroke-width="1.1" />
<line x1="86.09" y1="764.30" x2="86.09" y2="761.70" stroke="#222" stroke-width="1.1" />
<line x1="86.09" y1="425.30" x2="86.09" y2="427.90" stroke="#222" stroke-width="1.1" />
<line x1="100.69" y1="764.30" x2="100.69" y2="761.70" stroke="#222" stroke-width="1.1" />
<line x1="100.69" y1="425.30" x2="100.69" y2="427.90" stroke="#222" stroke-width="1.1" />
<line x1="115.28" y1="764.30" x2="115.28" y2="761.70" stroke="#222" stroke-width="1.1" />
<line x1="115.28" y1="425.30" x2="115.28" y2="427.90" stroke="#222" stroke-width="1.1" />
<line x1="129.87" y1="764.30" x2="129.87" y2="761.70" stroke="#222" stroke-width="1.1" />
<line x1="129.87" y1="425.30" x2="129.87" y2="427.90" stroke="#222" stroke-width="1.1" />
<line x1="144.47" y1="764.30" x2="144.47" y2="761.70" stroke="#222" stroke-width="1.1" />
<line x1="144.47" y1="425.30" x2="144.47" y2="427.90" stroke="#222" stroke-width="1.1" />
<line x1="159.06" y1="764.30" x2="159.06" y2="761.70" stroke="#222" stroke-width="1.1" />
<line x1="159.06" y1="425.30" x2="159.06" y2="427.90" stroke="#222" stroke-width="1.1" />
<line x1="173.65" y1="764.30" x2="173.65" y2="761.70" stroke="#222" stroke-width="1.1" />
<line x1="173.65" y1="425.30" x2="173.65" y2="427.90" stroke="#222" stroke-width="1.1" />
<line x1="188.24" y1="764.30" x2="188.24" y2="761.70" stroke="#222" stroke-width="1.1" />
<line x1="188.24" y1="425.30" x2="188.24" y2="427.90" stroke="#222" stroke-width="1.1" />
<line x1="202.84" y1="764.30" x2="202.84" y2="761.70" stroke="#222" stroke-width="1.1" />
<line x1="202.84" y1="425.30" x2="202.84" y2="427.90" stroke="#222" stroke-width="1.1" />
<line x1="217.43" y1="764.30" x2="217.43" y2="761.70" stroke="#222" stroke-width="1.1" />
<line x1="217.43" y1="425.30" x2="217.43" y2="427.90" stroke="#222" stroke-width="1.1" />
<line x1="232.02" y1="764.30" x2="232.02" y2="761.70" stroke="#222" stroke-width="1.1" />
<line x1="232.02" y1="425.30" x2="232.02" y2="427.90" stroke="#222" stroke-width="1.1" />
<line x1="246.62" y1="764.30" x2="246.62" y2="761.70" stroke="#222" stroke-width="1.1" />
<line x1="246.62" y1="425.30" x2="246.62" y2="427.90" stroke="#222" stroke-width="1.1" />
<line x1="261.21" y1="764.30" x2="261.21" y2="761.70" stroke="#222" stroke-width="1.1" />
<line x1="261.21" y1="425.30" x2="261.21" y2="427.90" stroke="#222" stroke-width="1.1" />
<line x1="275.80" y1="764.30" x2="275.80" y2="761.70" stroke="#222" stroke-width="1.1" />
<line x1="275.80" y1="425.30" x2="275.80" y2="427.90" stroke="#222" stroke-width="1.1" />
<line x1="290.39" y1="764.30" x2="290.39" y2="761.70" stroke="#222" stroke-width="1.1" />
<line x1="290.39" y1="425.30" x2="290.39" y2="427.90" stroke="#222" stroke-width="1.1" />
<line x1="304.99" y1="764.30" x2="304.99" y2="761.70" stroke="#222" stroke-width="1.1" />
<line x1="304.99" y1="425.30" x2="304.99" y2="427.90" stroke="#222" stroke-width="1.1" />
<line x1="319.58" y1="764.30" x2="319.58" y2="761.70" stroke="#222" stroke-width="1.1" />
<line x1="319.58" y1="425.30" x2="319.58" y2="427.90" stroke="#222" stroke-width="1.1" />
<line x1="71.50" y1="764.30" x2="71.50" y2="759.80" stroke="#222" stroke-width="1.1" />
<line x1="71.50" y1="425.30" x2="71.50" y2="429.80" stroke="#222" stroke-width="1.1" />
<line x1="144.47" y1="764.30" x2="144.47" y2="759.80" stroke="#222" stroke-width="1.1" />
<line x1="144.47" y1="425.30" x2="144.47" y2="429.80" stroke="#222" stroke-width="1.1" />
<line x1="217.43" y1="764.30" x2="217.43" y2="759.80" stroke="#222" stroke-width="1.1" />
<line x1="217.43" y1="425.30" x2="217.43" y2="429.80" stroke="#222" stroke-width="1.1" />
<line x1="290.39" y1="764.30" x2="290.39" y2="759.80" stroke="#222" stroke-width="1.1" />
<line x1="290.39" y1="425.30" x2="290.39" y2="429.80" stroke="#222" stroke-width="1.1" />
<line x1="56.80" y1="759.58" x2="59.40" y2="759.58" stroke="#222" stroke-width="1.1" />
<line x1="320.60" y1="759.58" x2="318.00" y2="759.58" stroke="#222" stroke-width="1.1" />
<line x1="56.80" y1="746.94" x2="59.40" y2="746.94" stroke="#222" stroke-width="1.1" />
<line x1="320.60" y1="746.94" x2="318.00" y2="746.94" stroke="#222" stroke-width="1.1" />
<line x1="56.80" y1="734.30" x2="59.40" y2="734.30" stroke="#222" stroke-width="1.1" />
<line x1="320.60" y1="734.30" x2="318.00" y2="734.30" stroke="#222" stroke-width="1.1" />
<line x1="56.80" y1="721.66" x2="59.40" y2="721.66" stroke="#222" stroke-width="1.1" />
<line x1="320.60" y1="721.66" x2="318.00" y2="721.66" stroke="#222" stroke-width="1.1" />
<line x1="56.80" y1="709.02" x2="59.40" y2="709.02" stroke="#222" stroke-width="1.1" />
<line x1="320.60" y1="709.02" x2="318.00" y2="709.02" stroke="#222" stroke-width="1.1" />
<line x1="56.80" y1="696.38" x2="59.40" y2="696.38" stroke="#222" stroke-width="1.1" />
<line x1="320.60" y1="696.38" x2="318.00" y2="696.38" stroke="#222" stroke-width="1.1" />
<line x1="56.80" y1="683.74" x2="59.40" y2="683.74" stroke="#222" stroke-width="1.1" />
<line x1="320.60" y1="683.74" x2="318.00" y2="683.74" stroke="#222" stroke-width="1.1" />
<line x1="56.80" y1="671.10" x2="59.40" y2="671.10" stroke="#222" stroke-width="1.1" />
<line x1="320.60" y1="671.10" x2="318.00" y2="671.10" stroke="#222" stroke-width="1.1" />
<line x1="56.80" y1="658.46" x2="59.40" y2="658.46" stroke="#222" stroke-width="1.1" />
<line x1="320.60" y1="658.46" x2="318.00" y2="658.46" stroke="#222" stroke-width="1.1" />
<line x1="56.80" y1="645.82" x2="59.40" y2="645.82" stroke="#222" stroke-width="1.1" />
<line x1="320.60" y1="645.82" x2="318.00" y2="645.82" stroke="#222" stroke-width="1.1" />
<line x1="56.80" y1="633.18" x2="59.40" y2="633.18" stroke="#222" stroke-width="1.1" />
<line x1="320.60" y1="633.18" x2="318.00" y2="633.18" stroke="#222" stroke-width="1.1" />
<line x1="56.80" y1="620.54" x2="59.40" y2="620.54" stroke="#222" stroke-width="1.1" />
<line x1="320.60" y1="620.54" x2="318.00" y2="620.54" stroke="#222" stroke-width="1.1" />
<line x1="56.80" y1="607.90" x2="59.40" y2="607.90" stroke="#222" stroke-width="1.1" />
<line x1="320.60" y1="607.90" x2="318.00" y2="607.90" stroke="#222" stroke-width="1.1" />
<line x1="56.80" y1="595.26" x2="59.40" y2="595.26" stroke="#222" stroke-width="1.1" />
<line x1="320.60" y1="595.26" x2="318.00" y2="595.26" stroke="#222" stroke-width="1.1" />
<line x1="56.80" y1="582.62" x2="59.40" y2="582.62" stroke="#222" stroke-width="1.1" />
<line x1="320.60" y1="582.62" x2="318.00" y2="582.62" stroke="#222" stroke-width="1.1" />
<line x1="56.80" y1="569.98" x2="59.40" y2="569.98" stroke="#222" stroke-width="1.1" />
<line x1="320.60" y1="569.98" x2="318.00" y2="569.98" stroke="#222" stroke-width="1.1" />
<line x1="56.80" y1="557.34" x2="59.40" y2="557.34" stroke="#222" stroke-width="1.1" />
<line x1="320.60" y1="557.34" x2="318.00" y2="557.34" stroke="#222" stroke-width="1.1" />
<line x1="56.80" y1="544.70" x2="59.40" y2="544.70" stroke="#222" stroke-width="1.1" />
<line x1="320.60" y1="544.70" x2="318.00" y2="544.70" stroke="#222" stroke-width="1.1" />
<line x1="56.80" y1="532.06" x2="59.40" y2="532.06" stroke="#222" stroke-width="1.1" />
<line x1="320.60" y1="532.06" x2="318.00" y2="532.06" stroke="#222" stroke-width="1.1" />
<line x1="56.80" y1="519.42" x2="59.40" y2="519.42" stroke="#222" stroke-width="1.1" />
<line x1="320.60" y1="519.42" x2="318.00" y2="519.42" stroke="#222" stroke-width="1.1" />
<line x1="56.80" y1="506.78" x2="59.40" y2="506.78" stroke="#222" stroke-width="1.1" />
<line x1="320.60" y1="506.78" x2="318.00" y2="506.78" stroke="#222" stroke-width="1.1" />
<line x1="56.80" y1="494.14" x2="59.40" y2="494.14" stroke="#222" stroke-width="1.1" />
<line x1="320.60" y1="494.14" x2="318.00" y2="494.14" stroke="#222" stroke-width="1.1" />
<line x1="56.80" y1="481.50" x2="59.40" y2="481.50" stroke="#222" stroke-width="1.1" />
<line x1="320.60" y1="481.50" x2="318.00" y2="481.50" stroke="#222" stroke-width="1.1" />
<line x1="56.80" y1="468.86" x2="59.40" y2="468.86" stroke="#222" stroke-width="1.1" />
<line x1="320.60" y1="468.86" x2="318.00" y2="468.86" stroke="#222" stroke-width="1.1" />
<line x1="56.80" y1="456.22" x2="59.40" y2="456.22" stroke="#222" stroke-width="1.1" />
<line x1="320.60" y1="456.22" x2="318.00" y2="456.22" stroke="#222" stroke-width="1.1" />
<line x1="56.80" y1="443.58" x2="59.40" y2="443.58" stroke="#222" stroke-width="1.1" />
<line x1="320.60" y1="443.58" x2="318.00" y2="443.58" stroke="#222" stroke-width="1.1" />
<line x1="56.80" y1="430.94" x2="59.40" y2="430.94" stroke="#222" stroke-width="1.1" />
<line x1="320.60" y1="430.94" x2="318.00" y2="430.94" stroke="#222" stroke-width="1.1" />
<line x1="56.80" y1="734.30" x2="61.30" y2="734.30" stroke="#222" stroke-width="1.1" />
<line x1="320.60" y1="734.30" x2="316.10" y2="734.30" stroke="#222" stroke-width="1.1" />
<line x1="56.80" y1="683.74" x2="61.30" y2="683.74" stroke="#222" stroke-width="1.1" />
<line x1="320.60" y1="683.74" x2="316.10" y2="683.74" stroke="#222" stroke-width="1.1" />
<line x1="56.80" y1="633.18" x2="61.30" y2="633.18" stroke="#222" stroke-width="1.1" />
<line x1="320.60" y1="633.18" x2="316.10" y2="633.18" stroke="#222" stroke-width="1.1" />
<line x1="56.80" y1="582.62" x2="61.30" y2="582.62" stroke="#222" stroke-width="1.1" />
<line x1="320.60" y1="582.62" x2="316.10" y2="582.62" stroke="#222" stroke-width="1.1" />
<line x1="56.80" y1="532.06" x2="61.30" y2="532.06" stroke="#222" stroke-width="1.1" />
<line x1="320.60" y1="532.06" x2="316.10" y2="532.06" stroke="#222" stroke-width="1.1" />
<line x1="56.80" y1="481.50" x2="61.30" y2="481.50" stroke="#222" stroke-width="1.1" />
<line x1="320.60" y1="481.50" x2="316.10" y2="481.50" stroke="#222" stroke-width="1.1" />
<line x1="56.80" y1="430.94" x2="61.30" y2="430.94" stroke="#222" stroke-width="1.1" />
<line x1="320.60" y1="430.94" x2="316.10" y2="430.94" stroke="#222" stroke-width="1.1" />
<text transform="translate(71.50,780.90) scale(1.05,1)" font-size="13.8" text-anchor="middle" fill="#383838">8500</text>
<text transform="translate(144.47,780.90) scale(1.05,1)" font-size="13.8" text-anchor="middle" fill="#383838">9000</text>
<text transform="translate(217.43,780.90) scale(1.05,1)" font-size="13.8" text-anchor="middle" fill="#383838">9500</text>
<text transform="translate(290.39,780.90) scale(1.05,1)" font-size="13.8" text-anchor="middle" fill="#383838">10000</text>
<text transform="translate(51.60,740.10) scale(1.05,1)" font-size="13.8" text-anchor="end" fill="#383838">9.2</text>
<text transform="translate(51.60,689.54) scale(1.05,1)" font-size="13.8" text-anchor="end" fill="#383838">9.4</text>
<text transform="translate(51.60,638.98) scale(1.05,1)" font-size="13.8" text-anchor="end" fill="#383838">9.6</text>
<text transform="translate(51.60,588.42) scale(1.05,1)" font-size="13.8" text-anchor="end" fill="#383838">9.8</text>
<text transform="translate(51.60,537.86) scale(1.05,1)" font-size="13.8" text-anchor="end" fill="#383838">10.0</text>
<text transform="translate(51.60,487.30) scale(1.05,1)" font-size="13.8" text-anchor="end" fill="#383838">10.2</text>
<text transform="translate(51.60,436.74) scale(1.05,1)" font-size="13.8" text-anchor="end" fill="#383838">10.4</text>
<text transform="translate(148.85,799.80) scale(1.0013,1)" font-size="14.4" fill="#383838" >Cycle Count</text>
<text transform="translate(12.80,659.73) rotate(-90) scale(0.9772,1)" font-size="14.6" fill="#383838" >Crack</text>
<text transform="translate(12.80,617.12) rotate(-90) scale(1.0584,1)" font-size="14.6" fill="#383838" >Length (mm)</text>
<text transform="translate(1.43,430.60) scale(0.9667,1)" font-size="19" fill="#111" stroke="#111" stroke-width="0.45">b)</text>
<text transform="translate(69.91,452.50) scale(1.0490,1)" font-size="14.2" fill="#383838" >78% RH</text>
<text transform="translate(177.76,707.90) scale(1.1175,1)" font-size="13.2" fill="#383838" >7.22</text>
<text transform="translate(224.90,707.90) scale(1.2014,1)" font-size="13.2" fill="#383838" >10<tspan font-size="9.4" dy="-6.6">−4</tspan><tspan dy="6.6"> mm/cyc</tspan></text>
<text transform="translate(240.03,723.40) scale(1.1345,1)" font-size="13.2" fill="#383838" ><tspan font-style="italic">R</tspan><tspan font-size="9.2" dy="-5.4">2</tspan></text>
<text transform="translate(277.76,723.40) scale(1.0813,1)" font-size="13.2" fill="#383838" >0.989</text>
<text transform="translate(171.52,738.50) scale(1.0786,1)" font-size="13.2" fill="#383838" >Extension</text>
<text transform="translate(256.68,738.50) scale(1.1192,1)" font-size="13.2" fill="#383838" >1.20 mm</text>
<text transform="translate(241.96,753.00) scale(1.1225,1)" font-size="13.2" fill="#383838" >27 minutes</text>
<line x1="514.10" y1="425.10" x2="514.10" y2="764.20" stroke="#666" stroke-width="1.7" stroke-dasharray="1.7 2.686"/>
<line x1="515.30" y1="691.00" x2="466.41" y2="659.72" stroke="#666" stroke-width="1.1" />
<polyline fill="none" stroke="#555" stroke-width="1.1" stroke-linejoin="miter" points="471.93,659.81 465.90,659.40 468.80,664.70"/>
<line x1="525.50" y1="604.50" x2="575.76" y2="532.29" stroke="#666" stroke-width="1.1" />
<polyline fill="none" stroke="#555" stroke-width="1.1" stroke-linejoin="miter" points="575.45,537.81 576.10,531.80 570.69,534.49"/>
<circle cx="419.9" cy="713" r="2.3" fill="#000"/>
<circle cx="421" cy="708.3" r="2.3" fill="#000"/>
<circle cx="423.3" cy="704.2" r="2.3" fill="#000"/>
<circle cx="427" cy="705.6" r="2.3" fill="#000"/>
<circle cx="429.5" cy="699.3" r="2.3" fill="#000"/>
<circle cx="430.1" cy="696.3" r="2.3" fill="#000"/>
<circle cx="433.6" cy="687.3" r="2.3" fill="#000"/>
<circle cx="434" cy="687.9" r="2.3" fill="#000"/>
<circle cx="437.7" cy="683" r="2.3" fill="#000"/>
<circle cx="441.4" cy="685" r="2.3" fill="#000"/>
<circle cx="444.7" cy="682.3" r="2.3" fill="#000"/>
<circle cx="446.5" cy="678.5" r="2.3" fill="#000"/>
<circle cx="448.2" cy="681.5" r="2.3" fill="#000"/>
<circle cx="451.5" cy="673.6" r="2.3" fill="#000"/>
<circle cx="454.9" cy="668.6" r="2.3" fill="#000"/>
<circle cx="458.7" cy="663.4" r="2.3" fill="#000"/>
<circle cx="459" cy="658.5" r="2.3" fill="#000"/>
<circle cx="465.7" cy="659.8" r="2.3" fill="#000"/>
<circle cx="460.9" cy="648.5" r="2.3" fill="#000"/>
<circle cx="461.9" cy="652" r="2.3" fill="#000"/>
<circle cx="469" cy="649.1" r="2.3" fill="#000"/>
<circle cx="471.1" cy="638.6" r="2.3" fill="#000"/>
<circle cx="472.3" cy="634" r="2.3" fill="#000"/>
<circle cx="473.7" cy="628.8" r="2.3" fill="#000"/>
<circle cx="475.8" cy="625.9" r="2.3" fill="#000"/>
<circle cx="479.3" cy="622.3" r="2.3" fill="#000"/>
<circle cx="482.7" cy="625" r="2.3" fill="#000"/>
<circle cx="486.3" cy="620.3" r="2.3" fill="#000"/>
<circle cx="488.3" cy="618" r="2.3" fill="#000"/>
<circle cx="493.3" cy="617.6" r="2.3" fill="#000"/>
<circle cx="496.8" cy="613.3" r="2.3" fill="#000"/>
<circle cx="500" cy="608.6" r="2.3" fill="#000"/>
<circle cx="500.5" cy="610.6" r="2.3" fill="#000"/>
<circle cx="503.8" cy="616.4" r="2.3" fill="#000"/>
<circle cx="507.2" cy="603.9" r="2.3" fill="#000"/>
<circle cx="509.3" cy="598.7" r="2.3" fill="#000"/>
<circle cx="511.1" cy="595.2" r="2.3" fill="#000"/>
<circle cx="512.2" cy="586.8" r="2.3" fill="#000"/>
<circle cx="513.1" cy="577.5" r="2.3" fill="#000"/>
<circle cx="517.5" cy="589.9" r="2.3" fill="#000"/>
<circle cx="521" cy="590.8" r="2.3" fill="#000"/>
<circle cx="524.7" cy="591.4" r="2.3" fill="#000"/>
<circle cx="528.1" cy="577.2" r="2.3" fill="#000"/>
<circle cx="531.5" cy="566.2" r="2.3" fill="#000"/>
<circle cx="531.9" cy="573" r="2.3" fill="#000"/>
<circle cx="535" cy="560" r="2.3" fill="#000"/>
<circle cx="538.3" cy="571.3" r="2.3" fill="#000"/>
<circle cx="542" cy="569.3" r="2.3" fill="#000"/>
<circle cx="534.1" cy="555.9" r="2.3" fill="#000"/>
<circle cx="534.9" cy="558.8" r="2.3" fill="#000"/>
<circle cx="531.4" cy="566.1" r="2.3" fill="#000"/>
<circle cx="545.2" cy="558.2" r="2.3" fill="#000"/>
<circle cx="548.7" cy="551.8" r="2.3" fill="#000"/>
<circle cx="552.4" cy="557.3" r="2.3" fill="#000"/>
<circle cx="555.9" cy="550.3" r="2.3" fill="#000"/>
<circle cx="556.9" cy="545.6" r="2.3" fill="#000"/>
<circle cx="559.2" cy="539.8" r="2.3" fill="#000"/>
<circle cx="561.8" cy="535.9" r="2.3" fill="#000"/>
<circle cx="562.7" cy="537.1" r="2.3" fill="#000"/>
<circle cx="566.4" cy="545" r="2.3" fill="#000"/>
<circle cx="569.9" cy="539.8" r="2.3" fill="#000"/>
<circle cx="573.4" cy="532.8" r="2.3" fill="#000"/>
<circle cx="576.7" cy="542.7" r="2.3" fill="#000"/>
<circle cx="579.6" cy="525.2" r="2.3" fill="#000"/>
<circle cx="580.5" cy="522.8" r="2.3" fill="#000"/>
<circle cx="587.2" cy="525.8" r="2.3" fill="#000"/>
<circle cx="591" cy="518.4" r="2.3" fill="#000"/>
<circle cx="591.3" cy="514.4" r="2.3" fill="#000"/>
<circle cx="594" cy="513.5" r="2.3" fill="#000"/>
<circle cx="597.5" cy="514.7" r="2.3" fill="#000"/>
<circle cx="600.7" cy="510" r="2.3" fill="#000"/>
<circle cx="601.4" cy="509" r="2.3" fill="#000"/>
<circle cx="602.8" cy="504" r="2.3" fill="#000"/>
<circle cx="604.9" cy="499.3" r="2.3" fill="#000"/>
<circle cx="608.9" cy="502.8" r="2.3" fill="#000"/>
<circle cx="611.6" cy="503.4" r="2.3" fill="#000"/>
<circle cx="612.1" cy="495" r="2.3" fill="#000"/>
<circle cx="614.8" cy="493.8" r="2.3" fill="#000"/>
<circle cx="618.3" cy="493" r="2.3" fill="#000"/>
<circle cx="622.1" cy="494.6" r="2.3" fill="#000"/>
<circle cx="622.1" cy="485" r="2.3" fill="#000"/>
<circle cx="625.5" cy="481.9" r="2.3" fill="#000"/>
<circle cx="628.8" cy="479" r="2.3" fill="#000"/>
<circle cx="630.3" cy="473.6" r="2.3" fill="#000"/>
<circle cx="632.6" cy="481.5" r="2.3" fill="#000"/>
<circle cx="636.4" cy="477.7" r="2.3" fill="#000"/>
<circle cx="639.3" cy="469" r="2.3" fill="#000"/>
<circle cx="643" cy="468.9" r="2.3" fill="#000"/>
<circle cx="645.5" cy="464" r="2.3" fill="#000"/>
<circle cx="649.8" cy="462.6" r="2.3" fill="#000"/>
<circle cx="652.7" cy="463.8" r="2.3" fill="#000"/>
<circle cx="656.8" cy="462" r="2.3" fill="#000"/>
<line x1="418.40" y1="711.40" x2="514.60" y2="587.20" stroke="#fff" stroke-width="2.2" />
<line x1="514.00" y1="587.60" x2="659.20" y2="454.40" stroke="#fff" stroke-width="2.2" />
<line x1="418.40" y1="711.40" x2="514.60" y2="587.20" stroke="#828282" stroke-width="1.7" />
<line x1="514.00" y1="587.60" x2="659.20" y2="454.40" stroke="#828282" stroke-width="1.7" />
<rect x="406.7" y="425.4" width="264.40000000000003" height="338.80000000000007" fill="none" stroke="#626262" stroke-width="1.6"/>
<line x1="413.24" y1="764.20" x2="413.24" y2="761.60" stroke="#222" stroke-width="1.1" />
<line x1="413.24" y1="425.40" x2="413.24" y2="428.00" stroke="#222" stroke-width="1.1" />
<line x1="427.16" y1="764.20" x2="427.16" y2="761.60" stroke="#222" stroke-width="1.1" />
<line x1="427.16" y1="425.40" x2="427.16" y2="428.00" stroke="#222" stroke-width="1.1" />
<line x1="441.08" y1="764.20" x2="441.08" y2="761.60" stroke="#222" stroke-width="1.1" />
<line x1="441.08" y1="425.40" x2="441.08" y2="428.00" stroke="#222" stroke-width="1.1" />
<line x1="455.00" y1="764.20" x2="455.00" y2="761.60" stroke="#222" stroke-width="1.1" />
<line x1="455.00" y1="425.40" x2="455.00" y2="428.00" stroke="#222" stroke-width="1.1" />
<line x1="468.92" y1="764.20" x2="468.92" y2="761.60" stroke="#222" stroke-width="1.1" />
<line x1="468.92" y1="425.40" x2="468.92" y2="428.00" stroke="#222" stroke-width="1.1" />
<line x1="482.84" y1="764.20" x2="482.84" y2="761.60" stroke="#222" stroke-width="1.1" />
<line x1="482.84" y1="425.40" x2="482.84" y2="428.00" stroke="#222" stroke-width="1.1" />
<line x1="496.76" y1="764.20" x2="496.76" y2="761.60" stroke="#222" stroke-width="1.1" />
<line x1="496.76" y1="425.40" x2="496.76" y2="428.00" stroke="#222" stroke-width="1.1" />
<line x1="510.68" y1="764.20" x2="510.68" y2="761.60" stroke="#222" stroke-width="1.1" />
<line x1="510.68" y1="425.40" x2="510.68" y2="428.00" stroke="#222" stroke-width="1.1" />
<line x1="524.60" y1="764.20" x2="524.60" y2="761.60" stroke="#222" stroke-width="1.1" />
<line x1="524.60" y1="425.40" x2="524.60" y2="428.00" stroke="#222" stroke-width="1.1" />
<line x1="538.52" y1="764.20" x2="538.52" y2="761.60" stroke="#222" stroke-width="1.1" />
<line x1="538.52" y1="425.40" x2="538.52" y2="428.00" stroke="#222" stroke-width="1.1" />
<line x1="552.44" y1="764.20" x2="552.44" y2="761.60" stroke="#222" stroke-width="1.1" />
<line x1="552.44" y1="425.40" x2="552.44" y2="428.00" stroke="#222" stroke-width="1.1" />
<line x1="566.36" y1="764.20" x2="566.36" y2="761.60" stroke="#222" stroke-width="1.1" />
<line x1="566.36" y1="425.40" x2="566.36" y2="428.00" stroke="#222" stroke-width="1.1" />
<line x1="580.28" y1="764.20" x2="580.28" y2="761.60" stroke="#222" stroke-width="1.1" />
<line x1="580.28" y1="425.40" x2="580.28" y2="428.00" stroke="#222" stroke-width="1.1" />
<line x1="594.20" y1="764.20" x2="594.20" y2="761.60" stroke="#222" stroke-width="1.1" />
<line x1="594.20" y1="425.40" x2="594.20" y2="428.00" stroke="#222" stroke-width="1.1" />
<line x1="608.12" y1="764.20" x2="608.12" y2="761.60" stroke="#222" stroke-width="1.1" />
<line x1="608.12" y1="425.40" x2="608.12" y2="428.00" stroke="#222" stroke-width="1.1" />
<line x1="622.04" y1="764.20" x2="622.04" y2="761.60" stroke="#222" stroke-width="1.1" />
<line x1="622.04" y1="425.40" x2="622.04" y2="428.00" stroke="#222" stroke-width="1.1" />
<line x1="635.96" y1="764.20" x2="635.96" y2="761.60" stroke="#222" stroke-width="1.1" />
<line x1="635.96" y1="425.40" x2="635.96" y2="428.00" stroke="#222" stroke-width="1.1" />
<line x1="649.88" y1="764.20" x2="649.88" y2="761.60" stroke="#222" stroke-width="1.1" />
<line x1="649.88" y1="425.40" x2="649.88" y2="428.00" stroke="#222" stroke-width="1.1" />
<line x1="663.80" y1="764.20" x2="663.80" y2="761.60" stroke="#222" stroke-width="1.1" />
<line x1="663.80" y1="425.40" x2="663.80" y2="428.00" stroke="#222" stroke-width="1.1" />
<line x1="455.00" y1="764.20" x2="455.00" y2="759.70" stroke="#222" stroke-width="1.1" />
<line x1="455.00" y1="425.40" x2="455.00" y2="429.90" stroke="#222" stroke-width="1.1" />
<line x1="524.60" y1="764.20" x2="524.60" y2="759.70" stroke="#222" stroke-width="1.1" />
<line x1="524.60" y1="425.40" x2="524.60" y2="429.90" stroke="#222" stroke-width="1.1" />
<line x1="594.20" y1="764.20" x2="594.20" y2="759.70" stroke="#222" stroke-width="1.1" />
<line x1="594.20" y1="425.40" x2="594.20" y2="429.90" stroke="#222" stroke-width="1.1" />
<line x1="663.80" y1="764.20" x2="663.80" y2="759.70" stroke="#222" stroke-width="1.1" />
<line x1="663.80" y1="425.40" x2="663.80" y2="429.90" stroke="#222" stroke-width="1.1" />
<line x1="406.70" y1="755.53" x2="409.30" y2="755.53" stroke="#222" stroke-width="1.1" />
<line x1="671.10" y1="755.53" x2="668.50" y2="755.53" stroke="#222" stroke-width="1.1" />
<line x1="406.70" y1="746.35" x2="409.30" y2="746.35" stroke="#222" stroke-width="1.1" />
<line x1="671.10" y1="746.35" x2="668.50" y2="746.35" stroke="#222" stroke-width="1.1" />
<line x1="406.70" y1="737.18" x2="409.30" y2="737.18" stroke="#222" stroke-width="1.1" />
<line x1="671.10" y1="737.18" x2="668.50" y2="737.18" stroke="#222" stroke-width="1.1" />
<line x1="406.70" y1="728.00" x2="409.30" y2="728.00" stroke="#222" stroke-width="1.1" />
<line x1="671.10" y1="728.00" x2="668.50" y2="728.00" stroke="#222" stroke-width="1.1" />
<line x1="406.70" y1="718.83" x2="409.30" y2="718.83" stroke="#222" stroke-width="1.1" />
<line x1="671.10" y1="718.83" x2="668.50" y2="718.83" stroke="#222" stroke-width="1.1" />
<line x1="406.70" y1="709.65" x2="409.30" y2="709.65" stroke="#222" stroke-width="1.1" />
<line x1="671.10" y1="709.65" x2="668.50" y2="709.65" stroke="#222" stroke-width="1.1" />
<line x1="406.70" y1="700.48" x2="409.30" y2="700.48" stroke="#222" stroke-width="1.1" />
<line x1="671.10" y1="700.48" x2="668.50" y2="700.48" stroke="#222" stroke-width="1.1" />
<line x1="406.70" y1="691.30" x2="409.30" y2="691.30" stroke="#222" stroke-width="1.1" />
<line x1="671.10" y1="691.30" x2="668.50" y2="691.30" stroke="#222" stroke-width="1.1" />
<line x1="406.70" y1="682.13" x2="409.30" y2="682.13" stroke="#222" stroke-width="1.1" />
<line x1="671.10" y1="682.13" x2="668.50" y2="682.13" stroke="#222" stroke-width="1.1" />
<line x1="406.70" y1="672.95" x2="409.30" y2="672.95" stroke="#222" stroke-width="1.1" />
<line x1="671.10" y1="672.95" x2="668.50" y2="672.95" stroke="#222" stroke-width="1.1" />
<line x1="406.70" y1="663.78" x2="409.30" y2="663.78" stroke="#222" stroke-width="1.1" />
<line x1="671.10" y1="663.78" x2="668.50" y2="663.78" stroke="#222" stroke-width="1.1" />
<line x1="406.70" y1="654.60" x2="409.30" y2="654.60" stroke="#222" stroke-width="1.1" />
<line x1="671.10" y1="654.60" x2="668.50" y2="654.60" stroke="#222" stroke-width="1.1" />
<line x1="406.70" y1="645.43" x2="409.30" y2="645.43" stroke="#222" stroke-width="1.1" />
<line x1="671.10" y1="645.43" x2="668.50" y2="645.43" stroke="#222" stroke-width="1.1" />
<line x1="406.70" y1="636.25" x2="409.30" y2="636.25" stroke="#222" stroke-width="1.1" />
<line x1="671.10" y1="636.25" x2="668.50" y2="636.25" stroke="#222" stroke-width="1.1" />
<line x1="406.70" y1="627.08" x2="409.30" y2="627.08" stroke="#222" stroke-width="1.1" />
<line x1="671.10" y1="627.08" x2="668.50" y2="627.08" stroke="#222" stroke-width="1.1" />
<line x1="406.70" y1="617.90" x2="409.30" y2="617.90" stroke="#222" stroke-width="1.1" />
<line x1="671.10" y1="617.90" x2="668.50" y2="617.90" stroke="#222" stroke-width="1.1" />
<line x1="406.70" y1="608.73" x2="409.30" y2="608.73" stroke="#222" stroke-width="1.1" />
<line x1="671.10" y1="608.73" x2="668.50" y2="608.73" stroke="#222" stroke-width="1.1" />
<line x1="406.70" y1="599.55" x2="409.30" y2="599.55" stroke="#222" stroke-width="1.1" />
<line x1="671.10" y1="599.55" x2="668.50" y2="599.55" stroke="#222" stroke-width="1.1" />
<line x1="406.70" y1="590.38" x2="409.30" y2="590.38" stroke="#222" stroke-width="1.1" />
<line x1="671.10" y1="590.38" x2="668.50" y2="590.38" stroke="#222" stroke-width="1.1" />
<line x1="406.70" y1="581.20" x2="409.30" y2="581.20" stroke="#222" stroke-width="1.1" />
<line x1="671.10" y1="581.20" x2="668.50" y2="581.20" stroke="#222" stroke-width="1.1" />
<line x1="406.70" y1="572.03" x2="409.30" y2="572.03" stroke="#222" stroke-width="1.1" />
<line x1="671.10" y1="572.03" x2="668.50" y2="572.03" stroke="#222" stroke-width="1.1" />
<line x1="406.70" y1="562.85" x2="409.30" y2="562.85" stroke="#222" stroke-width="1.1" />
<line x1="671.10" y1="562.85" x2="668.50" y2="562.85" stroke="#222" stroke-width="1.1" />
<line x1="406.70" y1="553.68" x2="409.30" y2="553.68" stroke="#222" stroke-width="1.1" />
<line x1="671.10" y1="553.68" x2="668.50" y2="553.68" stroke="#222" stroke-width="1.1" />
<line x1="406.70" y1="544.50" x2="409.30" y2="544.50" stroke="#222" stroke-width="1.1" />
<line x1="671.10" y1="544.50" x2="668.50" y2="544.50" stroke="#222" stroke-width="1.1" />
<line x1="406.70" y1="535.33" x2="409.30" y2="535.33" stroke="#222" stroke-width="1.1" />
<line x1="671.10" y1="535.33" x2="668.50" y2="535.33" stroke="#222" stroke-width="1.1" />
<line x1="406.70" y1="526.15" x2="409.30" y2="526.15" stroke="#222" stroke-width="1.1" />
<line x1="671.10" y1="526.15" x2="668.50" y2="526.15" stroke="#222" stroke-width="1.1" />
<line x1="406.70" y1="516.98" x2="409.30" y2="516.98" stroke="#222" stroke-width="1.1" />
<line x1="671.10" y1="516.98" x2="668.50" y2="516.98" stroke="#222" stroke-width="1.1" />
<line x1="406.70" y1="507.80" x2="409.30" y2="507.80" stroke="#222" stroke-width="1.1" />
<line x1="671.10" y1="507.80" x2="668.50" y2="507.80" stroke="#222" stroke-width="1.1" />
<line x1="406.70" y1="498.63" x2="409.30" y2="498.63" stroke="#222" stroke-width="1.1" />
<line x1="671.10" y1="498.63" x2="668.50" y2="498.63" stroke="#222" stroke-width="1.1" />
<line x1="406.70" y1="489.45" x2="409.30" y2="489.45" stroke="#222" stroke-width="1.1" />
<line x1="671.10" y1="489.45" x2="668.50" y2="489.45" stroke="#222" stroke-width="1.1" />
<line x1="406.70" y1="480.28" x2="409.30" y2="480.28" stroke="#222" stroke-width="1.1" />
<line x1="671.10" y1="480.28" x2="668.50" y2="480.28" stroke="#222" stroke-width="1.1" />
<line x1="406.70" y1="471.10" x2="409.30" y2="471.10" stroke="#222" stroke-width="1.1" />
<line x1="671.10" y1="471.10" x2="668.50" y2="471.10" stroke="#222" stroke-width="1.1" />
<line x1="406.70" y1="461.93" x2="409.30" y2="461.93" stroke="#222" stroke-width="1.1" />
<line x1="671.10" y1="461.93" x2="668.50" y2="461.93" stroke="#222" stroke-width="1.1" />
<line x1="406.70" y1="452.75" x2="409.30" y2="452.75" stroke="#222" stroke-width="1.1" />
<line x1="671.10" y1="452.75" x2="668.50" y2="452.75" stroke="#222" stroke-width="1.1" />
<line x1="406.70" y1="443.58" x2="409.30" y2="443.58" stroke="#222" stroke-width="1.1" />
<line x1="671.10" y1="443.58" x2="668.50" y2="443.58" stroke="#222" stroke-width="1.1" />
<line x1="406.70" y1="434.40" x2="409.30" y2="434.40" stroke="#222" stroke-width="1.1" />
<line x1="671.10" y1="434.40" x2="668.50" y2="434.40" stroke="#222" stroke-width="1.1" />
<line x1="406.70" y1="425.23" x2="409.30" y2="425.23" stroke="#222" stroke-width="1.1" />
<line x1="671.10" y1="425.23" x2="668.50" y2="425.23" stroke="#222" stroke-width="1.1" />
<line x1="406.70" y1="746.35" x2="411.20" y2="746.35" stroke="#222" stroke-width="1.1" />
<line x1="671.10" y1="746.35" x2="666.60" y2="746.35" stroke="#222" stroke-width="1.1" />
<line x1="406.70" y1="700.48" x2="411.20" y2="700.48" stroke="#222" stroke-width="1.1" />
<line x1="671.10" y1="700.48" x2="666.60" y2="700.48" stroke="#222" stroke-width="1.1" />
<line x1="406.70" y1="654.60" x2="411.20" y2="654.60" stroke="#222" stroke-width="1.1" />
<line x1="671.10" y1="654.60" x2="666.60" y2="654.60" stroke="#222" stroke-width="1.1" />
<line x1="406.70" y1="608.73" x2="411.20" y2="608.73" stroke="#222" stroke-width="1.1" />
<line x1="671.10" y1="608.73" x2="666.60" y2="608.73" stroke="#222" stroke-width="1.1" />
<line x1="406.70" y1="562.85" x2="411.20" y2="562.85" stroke="#222" stroke-width="1.1" />
<line x1="671.10" y1="562.85" x2="666.60" y2="562.85" stroke="#222" stroke-width="1.1" />
<line x1="406.70" y1="516.98" x2="411.20" y2="516.98" stroke="#222" stroke-width="1.1" />
<line x1="671.10" y1="516.98" x2="666.60" y2="516.98" stroke="#222" stroke-width="1.1" />
<line x1="406.70" y1="471.10" x2="411.20" y2="471.10" stroke="#222" stroke-width="1.1" />
<line x1="671.10" y1="471.10" x2="666.60" y2="471.10" stroke="#222" stroke-width="1.1" />
<line x1="406.70" y1="425.23" x2="411.20" y2="425.23" stroke="#222" stroke-width="1.1" />
<line x1="671.10" y1="425.23" x2="666.60" y2="425.23" stroke="#222" stroke-width="1.1" />
<text transform="translate(455.00,780.90) scale(1.05,1)" font-size="13.8" text-anchor="middle" fill="#383838">13500</text>
<text transform="translate(524.60,780.90) scale(1.05,1)" font-size="13.8" text-anchor="middle" fill="#383838">14000</text>
<text transform="translate(594.20,780.90) scale(1.05,1)" font-size="13.8" text-anchor="middle" fill="#383838">14500</text>
<text transform="translate(663.80,780.90) scale(1.05,1)" font-size="13.8" text-anchor="middle" fill="#383838">15000</text>
<text transform="translate(401.20,752.15) scale(1.05,1)" font-size="13.8" text-anchor="end" fill="#383838">12.50</text>
<text transform="translate(401.20,706.27) scale(1.05,1)" font-size="13.8" text-anchor="end" fill="#383838">12.75</text>
<text transform="translate(401.20,660.40) scale(1.05,1)" font-size="13.8" text-anchor="end" fill="#383838">13.00</text>
<text transform="translate(401.20,614.52) scale(1.05,1)" font-size="13.8" text-anchor="end" fill="#383838">13.25</text>
<text transform="translate(401.20,568.65) scale(1.05,1)" font-size="13.8" text-anchor="end" fill="#383838">13.50</text>
<text transform="translate(401.20,522.77) scale(1.05,1)" font-size="13.8" text-anchor="end" fill="#383838">13.75</text>
<text transform="translate(401.20,476.90) scale(1.05,1)" font-size="13.8" text-anchor="end" fill="#383838">14.00</text>
<text transform="translate(401.20,431.03) scale(1.05,1)" font-size="13.8" text-anchor="end" fill="#383838">14.25</text>
<text transform="translate(499.35,799.80) scale(1.0013,1)" font-size="14.4" fill="#383838" >Cycle Count</text>
<text transform="translate(354.50,659.73) rotate(-90) scale(0.9772,1)" font-size="14.6" fill="#383838" >Crack</text>
<text transform="translate(354.50,617.13) rotate(-90) scale(1.0658,1)" font-size="14.6" fill="#383838" >Length (mm)</text>
<text transform="translate(342.61,430.60) scale(0.9754,1)" font-size="19" fill="#111" stroke="#111" stroke-width="0.45">c)</text>
<text transform="translate(419.51,452.50) scale(1.0569,1)" font-size="14.2" fill="#383838" >84% RH</text>
<text transform="translate(528.07,623.70) scale(1.1061,1)" font-size="13.2" fill="#383838" >7.00</text>
<text transform="translate(575.20,623.70) scale(1.2014,1)" font-size="13.2" fill="#383838" >10<tspan font-size="9.4" dy="-6.6">−4</tspan><tspan dy="6.6"> mm/cyc</tspan></text>
<text transform="translate(590.33,638.80) scale(1.1345,1)" font-size="13.2" fill="#383838" ><tspan font-style="italic">R</tspan><tspan font-size="9.2" dy="-5.4">2</tspan></text>
<text transform="translate(628.06,638.80) scale(1.0813,1)" font-size="13.2" fill="#383838" >0.981</text>
<text transform="translate(521.62,653.60) scale(1.0804,1)" font-size="13.2" fill="#383838" >Extension</text>
<text transform="translate(606.33,653.60) scale(1.1320,1)" font-size="13.2" fill="#383838" >0.63 mm</text>
<text transform="translate(592.68,668.00) scale(1.1159,1)" font-size="13.2" fill="#383838" >17 minutes</text>
<text transform="translate(528.07,707.90) scale(1.1061,1)" font-size="13.2" fill="#383838" >9.90</text>
<text transform="translate(575.20,707.90) scale(1.2014,1)" font-size="13.2" fill="#383838" >10<tspan font-size="9.4" dy="-6.6">−4</tspan><tspan dy="6.6"> mm/cyc</tspan></text>
<text transform="translate(590.33,723.60) scale(1.1345,1)" font-size="13.2" fill="#383838" ><tspan font-style="italic">R</tspan><tspan font-size="9.2" dy="-5.4">2</tspan></text>
<text transform="translate(628.06,723.60) scale(1.0813,1)" font-size="13.2" fill="#383838" >0.976</text>
<text transform="translate(521.62,738.10) scale(1.0804,1)" font-size="13.2" fill="#383838" >Extension</text>
<text transform="translate(606.33,738.10) scale(1.1320,1)" font-size="13.2" fill="#383838" >0.74 mm</text>
<text transform="translate(592.67,752.40) scale(1.1339,1)" font-size="13.2" fill="#383838" >11 minutes</text>
<line x1="613.10" y1="633.45" x2="622.60" y2="633.45" stroke="#383838" stroke-width="0.95" />
<line x1="613.10" y1="636.65" x2="622.60" y2="636.65" stroke="#383838" stroke-width="0.95" />
<line x1="590.30" y1="648.25" x2="599.80" y2="648.25" stroke="#383838" stroke-width="0.95" />
<line x1="590.30" y1="651.45" x2="599.80" y2="651.45" stroke="#383838" stroke-width="0.95" />
<line x1="613.10" y1="718.25" x2="622.60" y2="718.25" stroke="#383838" stroke-width="0.95" />
<line x1="613.10" y1="721.45" x2="622.60" y2="721.45" stroke="#383838" stroke-width="0.95" />
<line x1="590.30" y1="732.75" x2="599.80" y2="732.75" stroke="#383838" stroke-width="0.95" />
<line x1="590.30" y1="735.95" x2="599.80" y2="735.95" stroke="#383838" stroke-width="0.95" />
<line x1="262.80" y1="718.05" x2="272.30" y2="718.05" stroke="#383838" stroke-width="0.95" />
<line x1="262.80" y1="721.25" x2="272.30" y2="721.25" stroke="#383838" stroke-width="0.95" />
<line x1="240.30" y1="733.15" x2="249.90" y2="733.15" stroke="#383838" stroke-width="0.95" />
<line x1="240.30" y1="736.35" x2="249.90" y2="736.35" stroke="#383838" stroke-width="0.95" />
<line x1="168.65" y1="161.05" x2="175.35" y2="167.75" stroke="#383838" stroke-width="0.95" />
<line x1="168.65" y1="167.75" x2="175.35" y2="161.05" stroke="#383838" stroke-width="0.95" />
<line x1="314.85" y1="136.65" x2="321.55" y2="143.35" stroke="#383838" stroke-width="0.95" />
<line x1="314.85" y1="143.35" x2="321.55" y2="136.65" stroke="#383838" stroke-width="0.95" />
<line x1="401.55" y1="106.25" x2="408.25" y2="112.95" stroke="#383838" stroke-width="0.95" />
<line x1="401.55" y1="112.95" x2="408.25" y2="106.25" stroke="#383838" stroke-width="0.95" />
<line x1="460.35" y1="102.75" x2="467.05" y2="109.45" stroke="#383838" stroke-width="0.95" />
<line x1="460.35" y1="109.45" x2="467.05" y2="102.75" stroke="#383838" stroke-width="0.95" />
<line x1="521.05" y1="273.75" x2="527.75" y2="280.45" stroke="#383838" stroke-width="0.95" />
<line x1="521.05" y1="280.45" x2="527.75" y2="273.75" stroke="#383838" stroke-width="0.95" />
<line x1="548.65" y1="234.65" x2="555.35" y2="241.35" stroke="#383838" stroke-width="0.95" />
<line x1="548.65" y1="241.35" x2="555.35" y2="234.65" stroke="#383838" stroke-width="0.95" />
<line x1="578.35" y1="258.25" x2="585.05" y2="264.95" stroke="#383838" stroke-width="0.95" />
<line x1="578.35" y1="264.95" x2="585.05" y2="258.25" stroke="#383838" stroke-width="0.95" />
<line x1="618.35" y1="234.75" x2="625.05" y2="241.45" stroke="#383838" stroke-width="0.95" />
<line x1="618.35" y1="241.45" x2="625.05" y2="234.75" stroke="#383838" stroke-width="0.95" />
<line x1="562.15" y1="616.00" x2="569.15" y2="623.00" stroke="#383838" stroke-width="0.95" />
<line x1="562.15" y1="623.00" x2="569.15" y2="616.00" stroke="#383838" stroke-width="0.95" />
<line x1="562.15" y1="700.20" x2="569.15" y2="707.20" stroke="#383838" stroke-width="0.95" />
<line x1="562.15" y1="707.20" x2="569.15" y2="700.20" stroke="#383838" stroke-width="0.95" />
<line x1="211.85" y1="700.20" x2="218.85" y2="707.20" stroke="#383838" stroke-width="0.95" />
<line x1="211.85" y1="707.20" x2="218.85" y2="700.20" stroke="#383838" stroke-width="0.95" />
</svg>
</body></html>
